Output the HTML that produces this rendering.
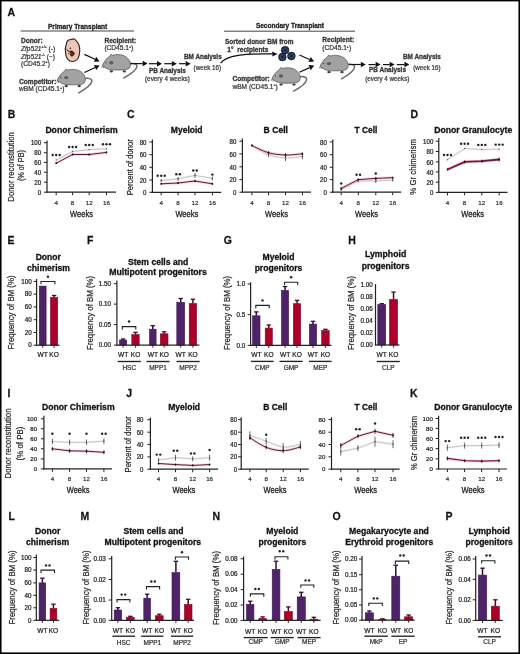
<!DOCTYPE html>
<html><head><meta charset="utf-8"><title>Figure</title>
<style>
html,body{margin:0;padding:0;background:#fff;}
body{width:520px;height:654px;overflow:hidden;}
svg{display:block;font-family:"Liberation Sans", sans-serif;filter:blur(0.3px);}
</style></head>
<body>
<svg width="520" height="654" viewBox="0 0 520 654">
<rect x="0" y="0" width="520" height="654" fill="#fff"/>
<text transform="translate(7.55,16.30) scale(0.89,1)" x="0" y="0" font-size="11.8" font-weight="bold" fill="#111" stroke="#111" stroke-width="0.25">A</text>
<text x="48.00" y="28.60" font-size="6.6" font-weight="bold" textLength="59.3" lengthAdjust="spacingAndGlyphs" fill="#222" stroke="#222" stroke-width="0.28">Primary Transplant</text>
<line x1="20.60" y1="31.00" x2="134.00" y2="31.00" stroke="#444" stroke-width="1.0"/>
<text x="21.00" y="43.00" font-size="6.6" font-weight="bold" fill="#333" stroke="#333" stroke-width="0.28">Donor:</text>
<text x="21.00" y="50.60" font-size="6.6" fill="#333" stroke="#333" stroke-width="0.22"><tspan font-style="italic">Zfp521</tspan><tspan font-size="3.6" dy="-2.6">+/+</tspan><tspan dy="2.6"> (-)</tspan></text>
<text x="21.00" y="58.60" font-size="6.6" fill="#333" stroke="#333" stroke-width="0.22"><tspan font-style="italic">Zfp521</tspan><tspan font-size="3.6" dy="-2.6">-/-</tspan><tspan dy="2.6"> (−)</tspan></text>
<text x="21.00" y="66.00" font-size="6.6" fill="#333" stroke="#333" stroke-width="0.22">(CD45.2<tspan font-size="3.6" dy="-2.6">+</tspan><tspan dy="2.6">)</tspan></text>
<text x="19.00" y="83.70" font-size="6.6" font-weight="bold" fill="#333" stroke="#333" stroke-width="0.28">Competitor:</text>
<text x="19.00" y="91.30" font-size="6.6" fill="#333" stroke="#333" stroke-width="0.22">wBM (CD45.1<tspan font-size="3.6" dy="-2.6">+</tspan><tspan dy="2.6">)</tspan></text>
<path d="M66.2,45 C66.5,41 69,39.2 72,39.4 C73.5,38.6 75,39.2 76,40.6 C78.8,43 80,47 79.7,51.5 C79.4,57 77,61.4 72.5,61.5 C68.5,61.5 65.6,58 65.5,52.5 C65.4,50.5 65.6,49.5 65.2,48.6 Z" fill="#ecc6b8" stroke="#3e2622" stroke-width="1.2"/>
<path d="M65.2,48.6 C66.5,48.8 68,50 69,51.6" fill="none" stroke="#4a2e2a" stroke-width="0.7"/>
<path d="M69.5,51.8 C71,50.6 73,51 74,52.6 C74.6,54 73.8,55.6 72.4,56 C71,56.4 70,55.2 70.4,54" fill="#5a2a22" stroke="#3a1a14" stroke-width="0.9"/>
<path d="M67,50.5 C68.5,51.5 70,51.6 71.5,51" fill="none" stroke="#3a1a14" stroke-width="0.8"/>
<circle cx="70.3" cy="48.2" r="0.8" fill="#2a1510"/>
<circle cx="68.7" cy="53.6" r="0.6" fill="#2a1510"/>
<line x1="84.40" y1="54.40" x2="95.06" y2="59.31" stroke="#111" stroke-width="1.2"/>
<path d="M99.60,61.40 L93.91,61.81 L96.21,56.81 Z" fill="#111"/>
<line x1="84.40" y1="72.50" x2="95.07" y2="67.52" stroke="#111" stroke-width="1.2"/>
<path d="M99.60,65.40 L96.23,70.01 L93.91,65.02 Z" fill="#111"/>
<g transform="translate(57.20,80.20) scale(1.0)"><path d="M27.5,-1.8 C31,-2.4 35,-1.6 34.6,1.2 C34,5 28,9 21.5,12.6" fill="none" stroke="#6e6e6e" stroke-width="1.5" stroke-linecap="round"/><ellipse cx="9" cy="6.0" rx="1.7" ry="1.1" fill="#3c3c3c"/><ellipse cx="22" cy="6.0" rx="1.7" ry="1.1" fill="#3c3c3c"/><path d="M0,0 C1.5,-3.5 4.5,-7.5 7.5,-9.2 L8.6,-11 L10.4,-10.2 C14.5,-11.2 20.5,-11.2 24.2,-8.2 C28,-5.2 29.2,-0.5 27.2,2.6 C25,4.6 21,4.6 16,4.6 L10,4.6 C6,4.2 2.5,2.6 0,0 Z" fill="#a2a2a2" stroke="#4a4a4a" stroke-width="0.7"/><ellipse cx="9" cy="-2.6" rx="2.2" ry="1.7" fill="#5e5e5e"/><circle cx="3.6" cy="-2.6" r="0.55" fill="#222"/><path d="M0.2,0.3 L-0.8,2.2 M1.4,0.9 L1.0,2.8" stroke="#333" stroke-width="0.6"/></g>
<text x="104.40" y="42.50" font-size="6.6" font-weight="bold" fill="#333" stroke="#333" stroke-width="0.28">Recipient:</text>
<text x="104.40" y="50.20" font-size="6.6" fill="#333" stroke="#333" stroke-width="0.22">(CD45.1<tspan font-size="3.6" dy="-2.6">+</tspan><tspan dy="2.6">)</tspan></text>
<g transform="translate(102.30,65.40) scale(1.0)"><path d="M27.5,-1.8 C31,-2.4 35,-1.6 34.6,1.2 C34,5 28,9 21.5,12.6" fill="none" stroke="#6e6e6e" stroke-width="1.5" stroke-linecap="round"/><ellipse cx="9" cy="6.0" rx="1.7" ry="1.1" fill="#3c3c3c"/><ellipse cx="22" cy="6.0" rx="1.7" ry="1.1" fill="#3c3c3c"/><path d="M0,0 C1.5,-3.5 4.5,-7.5 7.5,-9.2 L8.6,-11 L10.4,-10.2 C14.5,-11.2 20.5,-11.2 24.2,-8.2 C28,-5.2 29.2,-0.5 27.2,2.6 C25,4.6 21,4.6 16,4.6 L10,4.6 C6,4.2 2.5,2.6 0,0 Z" fill="#a2a2a2" stroke="#4a4a4a" stroke-width="0.7"/><ellipse cx="9" cy="-2.6" rx="2.2" ry="1.7" fill="#5e5e5e"/><circle cx="3.6" cy="-2.6" r="0.55" fill="#222"/><path d="M0.2,0.3 L-0.8,2.2 M1.4,0.9 L1.0,2.8" stroke="#333" stroke-width="0.6"/></g>
<line x1="130.50" y1="63.60" x2="142.60" y2="63.60" stroke="#111" stroke-width="1.2"/>
<path d="M147.60,63.60 L142.60,66.35 L142.60,60.85 Z" fill="#111"/>
<line x1="149.00" y1="63.70" x2="157.00" y2="63.70" stroke="#111" stroke-width="1.2"/>
<path d="M162.00,63.70 L157.00,66.45 L157.00,60.95 Z" fill="#111"/>
<line x1="164.20" y1="63.70" x2="171.80" y2="63.70" stroke="#111" stroke-width="1.2"/>
<path d="M176.80,63.70 L171.80,66.45 L171.80,60.95 Z" fill="#111"/>
<line x1="179.00" y1="63.70" x2="185.70" y2="63.70" stroke="#111" stroke-width="1.2"/>
<path d="M190.70,63.70 L185.70,66.45 L185.70,60.95 Z" fill="#111"/>
<text x="184.00" y="58.80" font-size="6.6" font-weight="bold" textLength="37.7" lengthAdjust="spacingAndGlyphs" fill="#333" stroke="#333" stroke-width="0.28">BM Analysis</text>
<text x="193.60" y="70.20" font-size="6.6" textLength="27.6" lengthAdjust="spacingAndGlyphs" fill="#333" stroke="#333" stroke-width="0.22">(week 16)</text>
<text x="149.00" y="72.70" font-size="6.6" font-weight="bold" textLength="36.8" lengthAdjust="spacingAndGlyphs" fill="#333" stroke="#333" stroke-width="0.28">PB Analysis</text>
<text x="145.00" y="80.90" font-size="6.6" textLength="44.9" lengthAdjust="spacingAndGlyphs" fill="#333" stroke="#333" stroke-width="0.22">(every 4 weeks)</text>
<text x="255.90" y="28.40" font-size="6.6" font-weight="bold" textLength="68.1" lengthAdjust="spacingAndGlyphs" fill="#222" stroke="#222" stroke-width="0.28">Secondary Transplant</text>
<line x1="224.00" y1="31.20" x2="355.00" y2="31.20" stroke="#444" stroke-width="1.0"/>
<text x="225.00" y="44.10" font-size="6.6" font-weight="bold" textLength="68.5" lengthAdjust="spacingAndGlyphs" fill="#333" stroke="#333" stroke-width="0.28">Sorted donor BM from</text>
<text x="227.30" y="51.80" font-size="6.6" font-weight="bold" textLength="41.0" lengthAdjust="spacingAndGlyphs" fill="#333" stroke="#333" stroke-width="0.28">1° &#160;recipients</text>
<path d="M220.7,63.2 C226,55 245,53.5 272.5,53.9" fill="none" stroke="#111" stroke-width="1.2"/>
<path d="M277.6,53.9 L272.2,51.4 L272.4,56.4 Z" fill="#111"/>
<circle cx="285.1" cy="50.1" r="3.9" fill="#1d2844" stroke="#0c1222" stroke-width="0.5"/>
<circle cx="285.1" cy="50.1" r="2.3" fill="none" stroke="#4a5a7c" stroke-width="0.7"/>
<circle cx="282.4" cy="57.0" r="3.9" fill="#1d2844" stroke="#0c1222" stroke-width="0.5"/>
<circle cx="282.4" cy="57.0" r="2.3" fill="none" stroke="#4a5a7c" stroke-width="0.7"/>
<circle cx="291.4" cy="56.0" r="3.9" fill="#1d2844" stroke="#0c1222" stroke-width="0.5"/>
<circle cx="291.4" cy="56.0" r="2.3" fill="none" stroke="#4a5a7c" stroke-width="0.7"/>
<line x1="299.40" y1="55.00" x2="309.63" y2="59.56" stroke="#111" stroke-width="1.2"/>
<path d="M314.20,61.60 L308.51,62.08 L310.75,57.05 Z" fill="#111"/>
<line x1="299.40" y1="72.20" x2="309.63" y2="67.64" stroke="#111" stroke-width="1.2"/>
<path d="M314.20,65.60 L310.75,70.15 L308.51,65.12 Z" fill="#111"/>
<text x="232.40" y="80.80" font-size="6.6" font-weight="bold" fill="#333" stroke="#333" stroke-width="0.28">Competitor:</text>
<text x="232.40" y="88.50" font-size="6.6" fill="#333" stroke="#333" stroke-width="0.22">wBM (CD45.1<tspan font-size="3.6" dy="-2.6">+</tspan><tspan dy="2.6">)</tspan></text>
<g transform="translate(272.00,78.60) scale(1.0)"><path d="M27.5,-1.8 C31,-2.4 35,-1.6 34.6,1.2 C34,5 28,9 21.5,12.6" fill="none" stroke="#6e6e6e" stroke-width="1.5" stroke-linecap="round"/><ellipse cx="9" cy="6.0" rx="1.7" ry="1.1" fill="#3c3c3c"/><ellipse cx="22" cy="6.0" rx="1.7" ry="1.1" fill="#3c3c3c"/><path d="M0,0 C1.5,-3.5 4.5,-7.5 7.5,-9.2 L8.6,-11 L10.4,-10.2 C14.5,-11.2 20.5,-11.2 24.2,-8.2 C28,-5.2 29.2,-0.5 27.2,2.6 C25,4.6 21,4.6 16,4.6 L10,4.6 C6,4.2 2.5,2.6 0,0 Z" fill="#a2a2a2" stroke="#4a4a4a" stroke-width="0.7"/><ellipse cx="9" cy="-2.6" rx="2.2" ry="1.7" fill="#5e5e5e"/><circle cx="3.6" cy="-2.6" r="0.55" fill="#222"/><path d="M0.2,0.3 L-0.8,2.2 M1.4,0.9 L1.0,2.8" stroke="#333" stroke-width="0.6"/></g>
<text x="322.30" y="42.00" font-size="6.6" font-weight="bold" fill="#333" stroke="#333" stroke-width="0.28">Recipient:</text>
<text x="322.30" y="50.10" font-size="6.6" fill="#333" stroke="#333" stroke-width="0.22">(CD45.1<tspan font-size="3.6" dy="-2.6">+</tspan><tspan dy="2.6">)</tspan></text>
<g transform="translate(320.00,66.20) scale(1.0)"><path d="M27.5,-1.8 C31,-2.4 35,-1.6 34.6,1.2 C34,5 28,9 21.5,12.6" fill="none" stroke="#6e6e6e" stroke-width="1.5" stroke-linecap="round"/><ellipse cx="9" cy="6.0" rx="1.7" ry="1.1" fill="#3c3c3c"/><ellipse cx="22" cy="6.0" rx="1.7" ry="1.1" fill="#3c3c3c"/><path d="M0,0 C1.5,-3.5 4.5,-7.5 7.5,-9.2 L8.6,-11 L10.4,-10.2 C14.5,-11.2 20.5,-11.2 24.2,-8.2 C28,-5.2 29.2,-0.5 27.2,2.6 C25,4.6 21,4.6 16,4.6 L10,4.6 C6,4.2 2.5,2.6 0,0 Z" fill="#a2a2a2" stroke="#4a4a4a" stroke-width="0.7"/><ellipse cx="9" cy="-2.6" rx="2.2" ry="1.7" fill="#5e5e5e"/><circle cx="3.6" cy="-2.6" r="0.55" fill="#222"/><path d="M0.2,0.3 L-0.8,2.2 M1.4,0.9 L1.0,2.8" stroke="#333" stroke-width="0.6"/></g>
<line x1="349.00" y1="64.50" x2="360.80" y2="64.50" stroke="#111" stroke-width="1.2"/>
<path d="M365.80,64.50 L360.80,67.25 L360.80,61.75 Z" fill="#111"/>
<line x1="368.50" y1="64.60" x2="375.60" y2="64.60" stroke="#111" stroke-width="1.2"/>
<path d="M380.60,64.60 L375.60,67.35 L375.60,61.85 Z" fill="#111"/>
<line x1="382.80" y1="64.60" x2="389.60" y2="64.60" stroke="#111" stroke-width="1.2"/>
<path d="M394.60,64.60 L389.60,67.35 L389.60,61.85 Z" fill="#111"/>
<line x1="396.80" y1="64.60" x2="404.40" y2="64.60" stroke="#111" stroke-width="1.2"/>
<path d="M409.40,64.60 L404.40,67.35 L404.40,61.85 Z" fill="#111"/>
<text x="403.00" y="58.80" font-size="6.6" font-weight="bold" textLength="37.8" lengthAdjust="spacingAndGlyphs" fill="#333" stroke="#333" stroke-width="0.28">BM Analysis</text>
<text x="413.30" y="70.00" font-size="6.6" textLength="27.3" lengthAdjust="spacingAndGlyphs" fill="#333" stroke="#333" stroke-width="0.22">(week 16)</text>
<text x="369.00" y="71.90" font-size="6.6" font-weight="bold" textLength="37.0" lengthAdjust="spacingAndGlyphs" fill="#333" stroke="#333" stroke-width="0.28">PB Analysis</text>
<text x="365.20" y="80.60" font-size="6.6" textLength="44.2" lengthAdjust="spacingAndGlyphs" fill="#333" stroke="#333" stroke-width="0.22">(every 4 weeks)</text>
<text transform="translate(7.76,118.20) scale(0.89,1)" x="0" y="0" font-size="11.8" font-weight="bold" fill="#111" stroke="#111" stroke-width="0.25">B</text>
<text transform="translate(127.02,118.20) scale(0.89,1)" x="0" y="0" font-size="11.8" font-weight="bold" fill="#111" stroke="#111" stroke-width="0.25">C</text>
<text transform="translate(410.51,118.20) scale(0.89,1)" x="0" y="0" font-size="11.8" font-weight="bold" fill="#111" stroke="#111" stroke-width="0.25">D</text>
<text x="45.40" y="132.70" font-size="8.6" font-weight="bold" textLength="72.3" lengthAdjust="spacingAndGlyphs" fill="#111" stroke="#111" stroke-width="0.28">Donor Chimerism</text>
<text transform="translate(13.80,166.90) rotate(-90)" x="0" y="0" font-size="9.1" text-anchor="middle" textLength="69.5" lengthAdjust="spacingAndGlyphs" fill="#222" stroke="#222" stroke-width="0.2">Donor reconstitution</text>
<text transform="translate(24.00,165.60) rotate(-90)" x="0" y="0" font-size="9.1" text-anchor="middle" textLength="31.0" lengthAdjust="spacingAndGlyphs" fill="#222" stroke="#222" stroke-width="0.2">(% of PB)</text>
<line x1="47.00" y1="140.40" x2="47.00" y2="192.80" stroke="#222" stroke-width="1.2"/>
<line x1="46.40" y1="192.20" x2="116.00" y2="192.20" stroke="#222" stroke-width="1.2"/>
<line x1="44.00" y1="142.70" x2="47.00" y2="142.70" stroke="#222" stroke-width="1.0"/>
<text x="41.10" y="145.45" font-size="6.3" text-anchor="end" textLength="10.2" lengthAdjust="spacingAndGlyphs" fill="#222" stroke="#222" stroke-width="0.22">100</text>
<line x1="44.00" y1="152.70" x2="47.00" y2="152.70" stroke="#222" stroke-width="1.0"/>
<text x="41.10" y="155.45" font-size="6.3" text-anchor="end" textLength="6.8" lengthAdjust="spacingAndGlyphs" fill="#222" stroke="#222" stroke-width="0.22">80</text>
<line x1="44.00" y1="162.40" x2="47.00" y2="162.40" stroke="#222" stroke-width="1.0"/>
<text x="41.10" y="165.15" font-size="6.3" text-anchor="end" textLength="6.8" lengthAdjust="spacingAndGlyphs" fill="#222" stroke="#222" stroke-width="0.22">60</text>
<line x1="44.00" y1="172.20" x2="47.00" y2="172.20" stroke="#222" stroke-width="1.0"/>
<text x="41.10" y="174.95" font-size="6.3" text-anchor="end" textLength="6.8" lengthAdjust="spacingAndGlyphs" fill="#222" stroke="#222" stroke-width="0.22">40</text>
<line x1="44.00" y1="182.20" x2="47.00" y2="182.20" stroke="#222" stroke-width="1.0"/>
<text x="41.10" y="184.95" font-size="6.3" text-anchor="end" textLength="6.8" lengthAdjust="spacingAndGlyphs" fill="#222" stroke="#222" stroke-width="0.22">20</text>
<line x1="44.00" y1="192.20" x2="47.00" y2="192.20" stroke="#222" stroke-width="1.0"/>
<text x="41.10" y="194.95" font-size="6.3" text-anchor="end" textLength="3.4" lengthAdjust="spacingAndGlyphs" fill="#222" stroke="#222" stroke-width="0.22">0</text>
<line x1="56.20" y1="192.20" x2="56.20" y2="195.20" stroke="#222" stroke-width="1.0"/>
<text x="56.20" y="204.80" font-size="6.2" text-anchor="middle" fill="#222" stroke="#222" stroke-width="0.15">4</text>
<line x1="72.60" y1="192.20" x2="72.60" y2="195.20" stroke="#222" stroke-width="1.0"/>
<text x="72.60" y="204.80" font-size="6.2" text-anchor="middle" fill="#222" stroke="#222" stroke-width="0.15">8</text>
<line x1="89.20" y1="192.20" x2="89.20" y2="195.20" stroke="#222" stroke-width="1.0"/>
<text x="89.20" y="204.80" font-size="6.2" text-anchor="middle" fill="#222" stroke="#222" stroke-width="0.15">12</text>
<line x1="106.50" y1="192.20" x2="106.50" y2="195.20" stroke="#222" stroke-width="1.0"/>
<text x="106.50" y="204.80" font-size="6.2" text-anchor="middle" fill="#222" stroke="#222" stroke-width="0.15">16</text>
<text x="81.50" y="217.40" font-size="9.7" text-anchor="middle" textLength="22.8" lengthAdjust="spacingAndGlyphs" fill="#1a1a1a" stroke="#1a1a1a" stroke-width="0.32">Weeks</text>
<path d="M56.20,160.00 L72.60,151.50 L89.20,149.60 L106.50,148.80" fill="none" stroke="#eee0e4" stroke-width="2.2" opacity="0.5"/>
<path d="M56.20,160.00 L72.60,151.50 L89.20,149.60 L106.50,148.80" fill="none" stroke="#c2c2c2" stroke-width="0.9"/>
<rect x="55.60" y="159.40" width="1.20" height="1.20" fill="#555"/>
<rect x="72.00" y="150.90" width="1.20" height="1.20" fill="#555"/>
<rect x="88.60" y="149.00" width="1.20" height="1.20" fill="#555"/>
<rect x="105.90" y="148.20" width="1.20" height="1.20" fill="#555"/>
<path d="M56.20,163.20 L72.60,154.50 L89.20,154.50 L106.50,152.40" fill="none" stroke="#eba9bc" stroke-width="2.8" opacity="0.45"/>
<path d="M56.20,163.20 L72.60,154.50 L89.20,154.50 L106.50,152.40" fill="none" stroke="#5c1832" stroke-width="1.0"/>
<rect x="55.45" y="162.45" width="1.50" height="1.50" fill="#2a0a16"/>
<line x1="56.20" y1="162.20" x2="56.20" y2="164.20" stroke="#2a0a16" stroke-width="0.8"/>
<rect x="71.85" y="153.75" width="1.50" height="1.50" fill="#2a0a16"/>
<line x1="72.60" y1="153.50" x2="72.60" y2="155.50" stroke="#2a0a16" stroke-width="0.8"/>
<rect x="88.45" y="153.75" width="1.50" height="1.50" fill="#2a0a16"/>
<line x1="89.20" y1="153.50" x2="89.20" y2="155.50" stroke="#2a0a16" stroke-width="0.8"/>
<rect x="105.75" y="151.65" width="1.50" height="1.50" fill="#2a0a16"/>
<line x1="106.50" y1="151.40" x2="106.50" y2="153.40" stroke="#2a0a16" stroke-width="0.8"/>
<circle cx="52.70" cy="155.00" r="1.2" fill="#222"/>
<circle cx="56.20" cy="155.00" r="1.2" fill="#222"/>
<circle cx="59.70" cy="155.00" r="1.2" fill="#222"/>
<circle cx="69.10" cy="147.00" r="1.2" fill="#222"/>
<circle cx="72.60" cy="147.00" r="1.2" fill="#222"/>
<circle cx="76.10" cy="147.00" r="1.2" fill="#222"/>
<circle cx="85.70" cy="145.00" r="1.2" fill="#222"/>
<circle cx="89.20" cy="145.00" r="1.2" fill="#222"/>
<circle cx="92.70" cy="145.00" r="1.2" fill="#222"/>
<circle cx="103.00" cy="144.20" r="1.2" fill="#222"/>
<circle cx="106.50" cy="144.20" r="1.2" fill="#222"/>
<circle cx="110.00" cy="144.20" r="1.2" fill="#222"/>
<text x="170.80" y="132.70" font-size="8.6" font-weight="bold" textLength="31.8" lengthAdjust="spacingAndGlyphs" fill="#111" stroke="#111" stroke-width="0.28">Myeloid</text>
<text transform="translate(133.10,167.30) rotate(-90)" x="0" y="0" font-size="9.1" text-anchor="middle" textLength="56.0" lengthAdjust="spacingAndGlyphs" fill="#222" stroke="#222" stroke-width="0.2">Percent of donor</text>
<line x1="152.40" y1="139.60" x2="152.40" y2="192.90" stroke="#222" stroke-width="1.2"/>
<line x1="151.80" y1="192.30" x2="221.20" y2="192.30" stroke="#222" stroke-width="1.2"/>
<line x1="149.40" y1="142.00" x2="152.40" y2="142.00" stroke="#222" stroke-width="1.0"/>
<text x="146.50" y="144.75" font-size="6.3" text-anchor="end" textLength="6.8" lengthAdjust="spacingAndGlyphs" fill="#222" stroke="#222" stroke-width="0.22">80</text>
<line x1="149.40" y1="154.70" x2="152.40" y2="154.70" stroke="#222" stroke-width="1.0"/>
<text x="146.50" y="157.45" font-size="6.3" text-anchor="end" textLength="6.8" lengthAdjust="spacingAndGlyphs" fill="#222" stroke="#222" stroke-width="0.22">60</text>
<line x1="149.40" y1="167.30" x2="152.40" y2="167.30" stroke="#222" stroke-width="1.0"/>
<text x="146.50" y="170.05" font-size="6.3" text-anchor="end" textLength="6.8" lengthAdjust="spacingAndGlyphs" fill="#222" stroke="#222" stroke-width="0.22">40</text>
<line x1="149.40" y1="180.00" x2="152.40" y2="180.00" stroke="#222" stroke-width="1.0"/>
<text x="146.50" y="182.75" font-size="6.3" text-anchor="end" textLength="6.8" lengthAdjust="spacingAndGlyphs" fill="#222" stroke="#222" stroke-width="0.22">20</text>
<line x1="149.40" y1="192.30" x2="152.40" y2="192.30" stroke="#222" stroke-width="1.0"/>
<text x="146.50" y="195.05" font-size="6.3" text-anchor="end" textLength="3.4" lengthAdjust="spacingAndGlyphs" fill="#222" stroke="#222" stroke-width="0.22">0</text>
<line x1="161.20" y1="192.30" x2="161.20" y2="195.30" stroke="#222" stroke-width="1.0"/>
<text x="161.20" y="204.80" font-size="6.2" text-anchor="middle" fill="#222" stroke="#222" stroke-width="0.15">4</text>
<line x1="178.10" y1="192.30" x2="178.10" y2="195.30" stroke="#222" stroke-width="1.0"/>
<text x="178.10" y="204.80" font-size="6.2" text-anchor="middle" fill="#222" stroke="#222" stroke-width="0.15">8</text>
<line x1="195.00" y1="192.30" x2="195.00" y2="195.30" stroke="#222" stroke-width="1.0"/>
<text x="195.00" y="204.80" font-size="6.2" text-anchor="middle" fill="#222" stroke="#222" stroke-width="0.15">12</text>
<line x1="212.40" y1="192.30" x2="212.40" y2="195.30" stroke="#222" stroke-width="1.0"/>
<text x="212.40" y="204.80" font-size="6.2" text-anchor="middle" fill="#222" stroke="#222" stroke-width="0.15">16</text>
<text x="186.80" y="217.20" font-size="9.7" text-anchor="middle" textLength="22.8" lengthAdjust="spacingAndGlyphs" fill="#1a1a1a" stroke="#1a1a1a" stroke-width="0.32">Weeks</text>
<path d="M161.20,180.50 L178.10,178.90 L195.00,175.40 L212.40,178.50" fill="none" stroke="#eee0e4" stroke-width="2.2" opacity="0.5"/>
<path d="M161.20,180.50 L178.10,178.90 L195.00,175.40 L212.40,178.50" fill="none" stroke="#c2c2c2" stroke-width="0.9"/>
<rect x="160.60" y="179.90" width="1.20" height="1.20" fill="#555"/>
<line x1="161.20" y1="179.00" x2="161.20" y2="182.00" stroke="#444" stroke-width="0.8"/>
<rect x="177.50" y="178.30" width="1.20" height="1.20" fill="#555"/>
<line x1="178.10" y1="176.90" x2="178.10" y2="180.90" stroke="#444" stroke-width="0.8"/>
<rect x="194.40" y="174.80" width="1.20" height="1.20" fill="#555"/>
<line x1="195.00" y1="172.90" x2="195.00" y2="177.90" stroke="#444" stroke-width="0.8"/>
<rect x="211.80" y="177.90" width="1.20" height="1.20" fill="#555"/>
<line x1="212.40" y1="176.50" x2="212.40" y2="180.50" stroke="#444" stroke-width="0.8"/>
<path d="M161.20,183.80 L178.10,183.00 L195.00,181.00 L212.40,183.80" fill="none" stroke="#eba9bc" stroke-width="2.8" opacity="0.45"/>
<path d="M161.20,183.80 L178.10,183.00 L195.00,181.00 L212.40,183.80" fill="none" stroke="#5c1832" stroke-width="1.0"/>
<rect x="160.45" y="183.05" width="1.50" height="1.50" fill="#2a0a16"/>
<line x1="161.20" y1="182.80" x2="161.20" y2="184.80" stroke="#2a0a16" stroke-width="0.8"/>
<rect x="177.35" y="182.25" width="1.50" height="1.50" fill="#2a0a16"/>
<line x1="178.10" y1="182.00" x2="178.10" y2="184.00" stroke="#2a0a16" stroke-width="0.8"/>
<rect x="194.25" y="180.25" width="1.50" height="1.50" fill="#2a0a16"/>
<line x1="195.00" y1="180.00" x2="195.00" y2="182.00" stroke="#2a0a16" stroke-width="0.8"/>
<rect x="211.65" y="183.05" width="1.50" height="1.50" fill="#2a0a16"/>
<line x1="212.40" y1="182.80" x2="212.40" y2="184.80" stroke="#2a0a16" stroke-width="0.8"/>
<circle cx="157.70" cy="175.80" r="1.2" fill="#222"/>
<circle cx="161.20" cy="175.80" r="1.2" fill="#222"/>
<circle cx="164.70" cy="175.80" r="1.2" fill="#222"/>
<circle cx="176.35" cy="174.30" r="1.2" fill="#222"/>
<circle cx="179.85" cy="174.30" r="1.2" fill="#222"/>
<circle cx="193.25" cy="170.50" r="1.2" fill="#222"/>
<circle cx="196.75" cy="170.50" r="1.2" fill="#222"/>
<circle cx="212.40" cy="174.60" r="1.2" fill="#222"/>
<text x="263.50" y="132.70" font-size="8.6" font-weight="bold" textLength="24.5" lengthAdjust="spacingAndGlyphs" fill="#111" stroke="#111" stroke-width="0.28">B Cell</text>
<line x1="242.40" y1="138.50" x2="242.40" y2="192.80" stroke="#222" stroke-width="1.2"/>
<line x1="241.80" y1="192.20" x2="311.00" y2="192.20" stroke="#222" stroke-width="1.2"/>
<line x1="239.40" y1="141.20" x2="242.40" y2="141.20" stroke="#222" stroke-width="1.0"/>
<text x="236.30" y="143.95" font-size="6.3" text-anchor="end" textLength="6.8" lengthAdjust="spacingAndGlyphs" fill="#222" stroke="#222" stroke-width="0.22">80</text>
<line x1="239.40" y1="153.90" x2="242.40" y2="153.90" stroke="#222" stroke-width="1.0"/>
<text x="236.30" y="156.65" font-size="6.3" text-anchor="end" textLength="6.8" lengthAdjust="spacingAndGlyphs" fill="#222" stroke="#222" stroke-width="0.22">60</text>
<line x1="239.40" y1="166.80" x2="242.40" y2="166.80" stroke="#222" stroke-width="1.0"/>
<text x="236.30" y="169.55" font-size="6.3" text-anchor="end" textLength="6.8" lengthAdjust="spacingAndGlyphs" fill="#222" stroke="#222" stroke-width="0.22">40</text>
<line x1="239.40" y1="179.60" x2="242.40" y2="179.60" stroke="#222" stroke-width="1.0"/>
<text x="236.30" y="182.35" font-size="6.3" text-anchor="end" textLength="6.8" lengthAdjust="spacingAndGlyphs" fill="#222" stroke="#222" stroke-width="0.22">20</text>
<line x1="239.40" y1="192.20" x2="242.40" y2="192.20" stroke="#222" stroke-width="1.0"/>
<text x="236.30" y="194.95" font-size="6.3" text-anchor="end" textLength="3.4" lengthAdjust="spacingAndGlyphs" fill="#222" stroke="#222" stroke-width="0.22">0</text>
<line x1="251.90" y1="192.20" x2="251.90" y2="195.20" stroke="#222" stroke-width="1.0"/>
<text x="251.90" y="204.80" font-size="6.2" text-anchor="middle" fill="#222" stroke="#222" stroke-width="0.15">4</text>
<line x1="268.50" y1="192.20" x2="268.50" y2="195.20" stroke="#222" stroke-width="1.0"/>
<text x="268.50" y="204.80" font-size="6.2" text-anchor="middle" fill="#222" stroke="#222" stroke-width="0.15">8</text>
<line x1="285.50" y1="192.20" x2="285.50" y2="195.20" stroke="#222" stroke-width="1.0"/>
<text x="285.50" y="204.80" font-size="6.2" text-anchor="middle" fill="#222" stroke="#222" stroke-width="0.15">12</text>
<line x1="302.40" y1="192.20" x2="302.40" y2="195.20" stroke="#222" stroke-width="1.0"/>
<text x="302.40" y="204.80" font-size="6.2" text-anchor="middle" fill="#222" stroke="#222" stroke-width="0.15">16</text>
<text x="276.50" y="217.20" font-size="9.7" text-anchor="middle" textLength="22.8" lengthAdjust="spacingAndGlyphs" fill="#1a1a1a" stroke="#1a1a1a" stroke-width="0.32">Weeks</text>
<path d="M251.90,145.50 C254.89,147.16 262.45,152.45 268.50,154.70 C274.55,156.95 279.40,157.68 285.50,158.00 C291.60,158.32 299.36,156.77 302.40,156.50" fill="none" stroke="#eee0e4" stroke-width="2.2" opacity="0.5"/>
<path d="M251.90,145.50 C254.89,147.16 262.45,152.45 268.50,154.70 C274.55,156.95 279.40,157.68 285.50,158.00 C291.60,158.32 299.36,156.77 302.40,156.50" fill="none" stroke="#c2c2c2" stroke-width="0.9"/>
<rect x="251.30" y="144.90" width="1.20" height="1.20" fill="#555"/>
<line x1="251.90" y1="144.50" x2="251.90" y2="146.50" stroke="#444" stroke-width="0.8"/>
<rect x="267.90" y="154.10" width="1.20" height="1.20" fill="#555"/>
<line x1="268.50" y1="152.20" x2="268.50" y2="157.20" stroke="#444" stroke-width="0.8"/>
<rect x="284.90" y="157.40" width="1.20" height="1.20" fill="#555"/>
<line x1="285.50" y1="155.00" x2="285.50" y2="161.00" stroke="#444" stroke-width="0.8"/>
<rect x="301.80" y="155.90" width="1.20" height="1.20" fill="#555"/>
<line x1="302.40" y1="154.00" x2="302.40" y2="159.00" stroke="#444" stroke-width="0.8"/>
<path d="M251.90,145.50 C254.89,146.80 262.45,150.99 268.50,152.70 C274.55,154.41 279.40,154.80 285.50,155.00 C291.60,155.20 299.36,154.02 302.40,153.80" fill="none" stroke="#eba9bc" stroke-width="2.8" opacity="0.45"/>
<path d="M251.90,145.50 C254.89,146.80 262.45,150.99 268.50,152.70 C274.55,154.41 279.40,154.80 285.50,155.00 C291.60,155.20 299.36,154.02 302.40,153.80" fill="none" stroke="#5c1832" stroke-width="1.0"/>
<rect x="251.15" y="144.75" width="1.50" height="1.50" fill="#2a0a16"/>
<line x1="251.90" y1="144.50" x2="251.90" y2="146.50" stroke="#2a0a16" stroke-width="0.8"/>
<rect x="267.75" y="151.95" width="1.50" height="1.50" fill="#2a0a16"/>
<line x1="268.50" y1="151.20" x2="268.50" y2="154.20" stroke="#2a0a16" stroke-width="0.8"/>
<rect x="284.75" y="154.25" width="1.50" height="1.50" fill="#2a0a16"/>
<line x1="285.50" y1="153.00" x2="285.50" y2="157.00" stroke="#2a0a16" stroke-width="0.8"/>
<rect x="301.65" y="153.05" width="1.50" height="1.50" fill="#2a0a16"/>
<line x1="302.40" y1="152.30" x2="302.40" y2="155.30" stroke="#2a0a16" stroke-width="0.8"/>
<text x="354.60" y="132.70" font-size="8.6" font-weight="bold" textLength="22.8" lengthAdjust="spacingAndGlyphs" fill="#111" stroke="#111" stroke-width="0.28">T Cell</text>
<line x1="332.80" y1="139.60" x2="332.80" y2="192.80" stroke="#222" stroke-width="1.2"/>
<line x1="332.20" y1="192.20" x2="401.20" y2="192.20" stroke="#222" stroke-width="1.2"/>
<line x1="329.80" y1="141.90" x2="332.80" y2="141.90" stroke="#222" stroke-width="1.0"/>
<text x="326.80" y="144.65" font-size="6.3" text-anchor="end" textLength="6.8" lengthAdjust="spacingAndGlyphs" fill="#222" stroke="#222" stroke-width="0.22">80</text>
<line x1="329.80" y1="154.70" x2="332.80" y2="154.70" stroke="#222" stroke-width="1.0"/>
<text x="326.80" y="157.45" font-size="6.3" text-anchor="end" textLength="6.8" lengthAdjust="spacingAndGlyphs" fill="#222" stroke="#222" stroke-width="0.22">60</text>
<line x1="329.80" y1="167.30" x2="332.80" y2="167.30" stroke="#222" stroke-width="1.0"/>
<text x="326.80" y="170.05" font-size="6.3" text-anchor="end" textLength="6.8" lengthAdjust="spacingAndGlyphs" fill="#222" stroke="#222" stroke-width="0.22">40</text>
<line x1="329.80" y1="179.60" x2="332.80" y2="179.60" stroke="#222" stroke-width="1.0"/>
<text x="326.80" y="182.35" font-size="6.3" text-anchor="end" textLength="6.8" lengthAdjust="spacingAndGlyphs" fill="#222" stroke="#222" stroke-width="0.22">20</text>
<line x1="329.80" y1="192.20" x2="332.80" y2="192.20" stroke="#222" stroke-width="1.0"/>
<text x="326.80" y="194.95" font-size="6.3" text-anchor="end" textLength="3.4" lengthAdjust="spacingAndGlyphs" fill="#222" stroke="#222" stroke-width="0.22">0</text>
<line x1="341.20" y1="192.20" x2="341.20" y2="195.20" stroke="#222" stroke-width="1.0"/>
<text x="341.20" y="204.80" font-size="6.2" text-anchor="middle" fill="#222" stroke="#222" stroke-width="0.15">4</text>
<line x1="358.30" y1="192.20" x2="358.30" y2="195.20" stroke="#222" stroke-width="1.0"/>
<text x="358.30" y="204.80" font-size="6.2" text-anchor="middle" fill="#222" stroke="#222" stroke-width="0.15">8</text>
<line x1="375.80" y1="192.20" x2="375.80" y2="195.20" stroke="#222" stroke-width="1.0"/>
<text x="375.80" y="204.80" font-size="6.2" text-anchor="middle" fill="#222" stroke="#222" stroke-width="0.15">12</text>
<line x1="392.70" y1="192.20" x2="392.70" y2="195.20" stroke="#222" stroke-width="1.0"/>
<text x="392.70" y="204.80" font-size="6.2" text-anchor="middle" fill="#222" stroke="#222" stroke-width="0.15">16</text>
<text x="366.50" y="217.20" font-size="9.7" text-anchor="middle" textLength="22.8" lengthAdjust="spacingAndGlyphs" fill="#1a1a1a" stroke="#1a1a1a" stroke-width="0.32">Weeks</text>
<path d="M341.20,189.60 L358.30,181.00 L375.80,181.00 L392.70,180.00" fill="none" stroke="#eee0e4" stroke-width="2.2" opacity="0.5"/>
<path d="M341.20,189.60 L358.30,181.00 L375.80,181.00 L392.70,180.00" fill="none" stroke="#c2c2c2" stroke-width="0.9"/>
<rect x="340.60" y="189.00" width="1.20" height="1.20" fill="#555"/>
<line x1="341.20" y1="188.10" x2="341.20" y2="191.10" stroke="#444" stroke-width="0.8"/>
<rect x="357.70" y="180.40" width="1.20" height="1.20" fill="#555"/>
<line x1="358.30" y1="179.50" x2="358.30" y2="182.50" stroke="#444" stroke-width="0.8"/>
<rect x="375.20" y="180.40" width="1.20" height="1.20" fill="#555"/>
<line x1="375.80" y1="179.00" x2="375.80" y2="183.00" stroke="#444" stroke-width="0.8"/>
<rect x="392.10" y="179.40" width="1.20" height="1.20" fill="#555"/>
<line x1="392.70" y1="178.50" x2="392.70" y2="181.50" stroke="#444" stroke-width="0.8"/>
<path d="M341.20,188.40 L358.30,179.60 L375.80,178.40 L392.70,177.70" fill="none" stroke="#eba9bc" stroke-width="2.8" opacity="0.45"/>
<path d="M341.20,188.40 L358.30,179.60 L375.80,178.40 L392.70,177.70" fill="none" stroke="#5c1832" stroke-width="1.0"/>
<rect x="340.45" y="187.65" width="1.50" height="1.50" fill="#2a0a16"/>
<line x1="341.20" y1="187.40" x2="341.20" y2="189.40" stroke="#2a0a16" stroke-width="0.8"/>
<rect x="357.55" y="178.85" width="1.50" height="1.50" fill="#2a0a16"/>
<line x1="358.30" y1="178.60" x2="358.30" y2="180.60" stroke="#2a0a16" stroke-width="0.8"/>
<rect x="375.05" y="177.65" width="1.50" height="1.50" fill="#2a0a16"/>
<line x1="375.80" y1="176.90" x2="375.80" y2="179.90" stroke="#2a0a16" stroke-width="0.8"/>
<rect x="391.95" y="176.95" width="1.50" height="1.50" fill="#2a0a16"/>
<line x1="392.70" y1="176.70" x2="392.70" y2="178.70" stroke="#2a0a16" stroke-width="0.8"/>
<circle cx="341.20" cy="183.50" r="1.2" fill="#222"/>
<circle cx="356.55" cy="174.70" r="1.2" fill="#222"/>
<circle cx="360.05" cy="174.70" r="1.2" fill="#222"/>
<circle cx="375.80" cy="173.50" r="1.2" fill="#222"/>
<text x="434.20" y="132.70" font-size="8.6" font-weight="bold" textLength="78.1" lengthAdjust="spacingAndGlyphs" fill="#111" stroke="#111" stroke-width="0.28">Donor Granulocyte</text>
<text transform="translate(416.40,166.90) rotate(-90)" x="0" y="0" font-size="9.1" text-anchor="middle" textLength="55.6" lengthAdjust="spacingAndGlyphs" fill="#222" stroke="#222" stroke-width="0.2">% Gr chimerism</text>
<line x1="438.80" y1="138.10" x2="438.80" y2="193.00" stroke="#222" stroke-width="1.2"/>
<line x1="438.20" y1="192.40" x2="507.50" y2="192.40" stroke="#222" stroke-width="1.2"/>
<line x1="435.80" y1="141.20" x2="438.80" y2="141.20" stroke="#222" stroke-width="1.0"/>
<text x="433.30" y="143.95" font-size="6.3" text-anchor="end" textLength="10.2" lengthAdjust="spacingAndGlyphs" fill="#222" stroke="#222" stroke-width="0.22">100</text>
<line x1="435.80" y1="151.50" x2="438.80" y2="151.50" stroke="#222" stroke-width="1.0"/>
<text x="433.30" y="154.25" font-size="6.3" text-anchor="end" textLength="6.8" lengthAdjust="spacingAndGlyphs" fill="#222" stroke="#222" stroke-width="0.22">80</text>
<line x1="435.80" y1="161.90" x2="438.80" y2="161.90" stroke="#222" stroke-width="1.0"/>
<text x="433.30" y="164.65" font-size="6.3" text-anchor="end" textLength="6.8" lengthAdjust="spacingAndGlyphs" fill="#222" stroke="#222" stroke-width="0.22">60</text>
<line x1="435.80" y1="171.90" x2="438.80" y2="171.90" stroke="#222" stroke-width="1.0"/>
<text x="433.30" y="174.65" font-size="6.3" text-anchor="end" textLength="6.8" lengthAdjust="spacingAndGlyphs" fill="#222" stroke="#222" stroke-width="0.22">40</text>
<line x1="435.80" y1="182.20" x2="438.80" y2="182.20" stroke="#222" stroke-width="1.0"/>
<text x="433.30" y="184.95" font-size="6.3" text-anchor="end" textLength="6.8" lengthAdjust="spacingAndGlyphs" fill="#222" stroke="#222" stroke-width="0.22">20</text>
<line x1="435.80" y1="192.40" x2="438.80" y2="192.40" stroke="#222" stroke-width="1.0"/>
<text x="433.30" y="195.15" font-size="6.3" text-anchor="end" textLength="3.4" lengthAdjust="spacingAndGlyphs" fill="#222" stroke="#222" stroke-width="0.22">0</text>
<line x1="447.50" y1="192.40" x2="447.50" y2="195.40" stroke="#222" stroke-width="1.0"/>
<text x="447.50" y="204.80" font-size="6.2" text-anchor="middle" fill="#222" stroke="#222" stroke-width="0.15">4</text>
<line x1="464.60" y1="192.40" x2="464.60" y2="195.40" stroke="#222" stroke-width="1.0"/>
<text x="464.60" y="204.80" font-size="6.2" text-anchor="middle" fill="#222" stroke="#222" stroke-width="0.15">8</text>
<line x1="481.80" y1="192.40" x2="481.80" y2="195.40" stroke="#222" stroke-width="1.0"/>
<text x="481.80" y="204.80" font-size="6.2" text-anchor="middle" fill="#222" stroke="#222" stroke-width="0.15">12</text>
<line x1="499.20" y1="192.40" x2="499.20" y2="195.40" stroke="#222" stroke-width="1.0"/>
<text x="499.20" y="204.80" font-size="6.2" text-anchor="middle" fill="#222" stroke="#222" stroke-width="0.15">16</text>
<text x="472.70" y="217.10" font-size="9.7" text-anchor="middle" textLength="22.8" lengthAdjust="spacingAndGlyphs" fill="#1a1a1a" stroke="#1a1a1a" stroke-width="0.32">Weeks</text>
<path d="M447.50,159.70 L464.60,148.50 L481.80,149.50 L499.20,149.20" fill="none" stroke="#eee0e4" stroke-width="2.2" opacity="0.5"/>
<path d="M447.50,159.70 L464.60,148.50 L481.80,149.50 L499.20,149.20" fill="none" stroke="#c2c2c2" stroke-width="0.9"/>
<rect x="446.90" y="159.10" width="1.20" height="1.20" fill="#555"/>
<rect x="464.00" y="147.90" width="1.20" height="1.20" fill="#555"/>
<rect x="481.20" y="148.90" width="1.20" height="1.20" fill="#555"/>
<rect x="498.60" y="148.60" width="1.20" height="1.20" fill="#555"/>
<path d="M447.50,169.50 L464.60,161.90 L481.80,161.20 L499.20,159.50" fill="none" stroke="#eba9bc" stroke-width="3.6" opacity="0.45"/>
<path d="M447.50,169.50 L464.60,161.90 L481.80,161.20 L499.20,159.50" fill="none" stroke="#701834" stroke-width="1.8"/>
<rect x="446.75" y="168.75" width="1.50" height="1.50" fill="#2a0a16"/>
<line x1="447.50" y1="168.50" x2="447.50" y2="170.50" stroke="#2a0a16" stroke-width="0.8"/>
<rect x="463.85" y="161.15" width="1.50" height="1.50" fill="#2a0a16"/>
<line x1="464.60" y1="160.40" x2="464.60" y2="163.40" stroke="#2a0a16" stroke-width="0.8"/>
<rect x="481.05" y="160.45" width="1.50" height="1.50" fill="#2a0a16"/>
<line x1="481.80" y1="159.70" x2="481.80" y2="162.70" stroke="#2a0a16" stroke-width="0.8"/>
<rect x="498.45" y="158.75" width="1.50" height="1.50" fill="#2a0a16"/>
<line x1="499.20" y1="157.50" x2="499.20" y2="161.50" stroke="#2a0a16" stroke-width="0.8"/>
<circle cx="444.00" cy="155.00" r="1.2" fill="#222"/>
<circle cx="447.50" cy="155.00" r="1.2" fill="#222"/>
<circle cx="451.00" cy="155.00" r="1.2" fill="#222"/>
<circle cx="461.10" cy="143.80" r="1.2" fill="#222"/>
<circle cx="464.60" cy="143.80" r="1.2" fill="#222"/>
<circle cx="468.10" cy="143.80" r="1.2" fill="#222"/>
<circle cx="478.30" cy="144.90" r="1.2" fill="#222"/>
<circle cx="481.80" cy="144.90" r="1.2" fill="#222"/>
<circle cx="485.30" cy="144.90" r="1.2" fill="#222"/>
<circle cx="495.70" cy="144.60" r="1.2" fill="#222"/>
<circle cx="499.20" cy="144.60" r="1.2" fill="#222"/>
<circle cx="502.70" cy="144.60" r="1.2" fill="#222"/>
<text transform="translate(7.61,243.50) scale(0.89,1)" x="0" y="0" font-size="11.8" font-weight="bold" fill="#111" stroke="#111" stroke-width="0.25">E</text>
<text transform="translate(87.11,243.50) scale(0.89,1)" x="0" y="0" font-size="11.8" font-weight="bold" fill="#111" stroke="#111" stroke-width="0.25">F</text>
<text transform="translate(223.77,243.50) scale(0.89,1)" x="0" y="0" font-size="11.8" font-weight="bold" fill="#111" stroke="#111" stroke-width="0.25">G</text>
<text transform="translate(348.31,243.50) scale(0.89,1)" x="0" y="0" font-size="11.8" font-weight="bold" fill="#111" stroke="#111" stroke-width="0.25">H</text>
<text x="48.30" y="259.90" font-size="8.6" font-weight="bold" text-anchor="middle" fill="#111" stroke="#111" stroke-width="0.28">Donor</text>
<text x="48.50" y="271.00" font-size="8.6" font-weight="bold" text-anchor="middle" fill="#111" stroke="#111" stroke-width="0.28">chimerism</text>
<text transform="translate(14.30,312.50) rotate(-90)" x="0" y="0" font-size="8.4" text-anchor="middle" textLength="74.0" lengthAdjust="spacingAndGlyphs" fill="#222" stroke="#222" stroke-width="0.2">Frequency of BM (%)</text>
<line x1="33.60" y1="281.40" x2="36.60" y2="281.40" stroke="#222" stroke-width="1.0"/>
<text x="31.80" y="283.60" font-size="6.3" text-anchor="end" fill="#222" stroke="#222" stroke-width="0.22">100</text>
<line x1="33.60" y1="294.20" x2="36.60" y2="294.20" stroke="#222" stroke-width="1.0"/>
<text x="31.80" y="296.40" font-size="6.3" text-anchor="end" fill="#222" stroke="#222" stroke-width="0.22">80</text>
<line x1="33.60" y1="306.90" x2="36.60" y2="306.90" stroke="#222" stroke-width="1.0"/>
<text x="31.80" y="309.10" font-size="6.3" text-anchor="end" fill="#222" stroke="#222" stroke-width="0.22">60</text>
<line x1="33.60" y1="319.70" x2="36.60" y2="319.70" stroke="#222" stroke-width="1.0"/>
<text x="31.80" y="321.90" font-size="6.3" text-anchor="end" fill="#222" stroke="#222" stroke-width="0.22">40</text>
<line x1="33.60" y1="332.50" x2="36.60" y2="332.50" stroke="#222" stroke-width="1.0"/>
<text x="31.80" y="334.70" font-size="6.3" text-anchor="end" fill="#222" stroke="#222" stroke-width="0.22">20</text>
<line x1="33.60" y1="345.20" x2="36.60" y2="345.20" stroke="#222" stroke-width="1.0"/>
<text x="31.80" y="347.40" font-size="6.3" text-anchor="end" fill="#222" stroke="#222" stroke-width="0.22">0</text>
<rect x="39.30" y="286.10" width="6.80" height="59.10" fill="#4f2368" stroke="#3a1552" stroke-width="0.6"/>
<line x1="42.70" y1="345.20" x2="42.70" y2="347.70" stroke="#222" stroke-width="1.0"/>
<line x1="54.10" y1="295.50" x2="54.10" y2="297.50" stroke="#4a0a1c" stroke-width="1.5"/>
<line x1="51.90" y1="295.50" x2="56.30" y2="295.50" stroke="#4a0a1c" stroke-width="1.3"/>
<rect x="50.50" y="297.50" width="7.20" height="47.70" fill="#ab002a" stroke="#7e0a24" stroke-width="0.6"/>
<line x1="54.10" y1="345.20" x2="54.10" y2="347.70" stroke="#222" stroke-width="1.0"/>
<line x1="36.60" y1="279.10" x2="36.60" y2="345.80" stroke="#222" stroke-width="1.2"/>
<line x1="36.00" y1="345.20" x2="59.60" y2="345.20" stroke="#222" stroke-width="1.2"/>
<path d="M41.00,284.30 L41.00,281.50 L54.90,281.50 L54.90,284.30" fill="none" stroke="#222" stroke-width="1.1"/>
<circle cx="47.95" cy="276.80" r="1.2" fill="#222"/>
<text x="42.70" y="356.90" font-size="7.0" text-anchor="middle" textLength="10.3" lengthAdjust="spacingAndGlyphs" fill="#222" stroke="#222" stroke-width="0.22">WT</text>
<text x="54.10" y="356.90" font-size="7.0" text-anchor="middle" textLength="9.5" lengthAdjust="spacingAndGlyphs" fill="#222" stroke="#222" stroke-width="0.22">KO</text>
<text x="158.10" y="264.60" font-size="8.6" font-weight="bold" text-anchor="middle" fill="#111" stroke="#111" stroke-width="0.28">Stem cells and</text>
<text x="158.00" y="275.20" font-size="8.6" font-weight="bold" text-anchor="middle" textLength="97.7" lengthAdjust="spacingAndGlyphs" fill="#111" stroke="#111" stroke-width="0.28">Multipotent progenitors</text>
<text transform="translate(92.80,312.90) rotate(-90)" x="0" y="0" font-size="8.4" text-anchor="middle" textLength="74.0" lengthAdjust="spacingAndGlyphs" fill="#222" stroke="#222" stroke-width="0.2">Frequency of BM (%)</text>
<line x1="113.90" y1="283.70" x2="116.90" y2="283.70" stroke="#222" stroke-width="1.0"/>
<text x="111.00" y="285.90" font-size="6.3" text-anchor="end" fill="#222" stroke="#222" stroke-width="0.22">1.50</text>
<line x1="113.90" y1="304.10" x2="116.90" y2="304.10" stroke="#222" stroke-width="1.0"/>
<text x="111.00" y="306.30" font-size="6.3" text-anchor="end" fill="#222" stroke="#222" stroke-width="0.22">0.10</text>
<line x1="113.90" y1="324.60" x2="116.90" y2="324.60" stroke="#222" stroke-width="1.0"/>
<text x="111.00" y="326.80" font-size="6.3" text-anchor="end" fill="#222" stroke="#222" stroke-width="0.22">0.05</text>
<line x1="113.90" y1="345.10" x2="116.90" y2="345.10" stroke="#222" stroke-width="1.0"/>
<text x="111.00" y="347.30" font-size="6.3" text-anchor="end" fill="#222" stroke="#222" stroke-width="0.22">0.00</text>
<line x1="123.05" y1="339.00" x2="123.05" y2="340.00" stroke="#2a0d38" stroke-width="1.5"/>
<line x1="120.85" y1="339.00" x2="125.25" y2="339.00" stroke="#2a0d38" stroke-width="1.3"/>
<rect x="119.50" y="340.00" width="7.10" height="5.10" fill="#4f2368" stroke="#3a1552" stroke-width="0.6"/>
<line x1="123.05" y1="345.10" x2="123.05" y2="347.60" stroke="#222" stroke-width="1.0"/>
<line x1="135.50" y1="332.30" x2="135.50" y2="334.60" stroke="#4a0a1c" stroke-width="1.5"/>
<line x1="133.30" y1="332.30" x2="137.70" y2="332.30" stroke="#4a0a1c" stroke-width="1.3"/>
<rect x="131.80" y="334.60" width="7.40" height="10.50" fill="#ab002a" stroke="#7e0a24" stroke-width="0.6"/>
<line x1="135.50" y1="345.10" x2="135.50" y2="347.60" stroke="#222" stroke-width="1.0"/>
<line x1="152.80" y1="325.70" x2="152.80" y2="329.20" stroke="#2a0d38" stroke-width="1.5"/>
<line x1="150.60" y1="325.70" x2="155.00" y2="325.70" stroke="#2a0d38" stroke-width="1.3"/>
<rect x="149.50" y="329.20" width="6.60" height="15.90" fill="#4f2368" stroke="#3a1552" stroke-width="0.6"/>
<line x1="152.80" y1="345.10" x2="152.80" y2="347.60" stroke="#222" stroke-width="1.0"/>
<line x1="164.15" y1="331.80" x2="164.15" y2="333.80" stroke="#4a0a1c" stroke-width="1.5"/>
<line x1="161.95" y1="331.80" x2="166.35" y2="331.80" stroke="#4a0a1c" stroke-width="1.3"/>
<rect x="160.30" y="333.80" width="7.70" height="11.30" fill="#ab002a" stroke="#7e0a24" stroke-width="0.6"/>
<line x1="164.15" y1="345.10" x2="164.15" y2="347.60" stroke="#222" stroke-width="1.0"/>
<line x1="180.70" y1="298.50" x2="180.70" y2="302.30" stroke="#2a0d38" stroke-width="1.5"/>
<line x1="178.50" y1="298.50" x2="182.90" y2="298.50" stroke="#2a0d38" stroke-width="1.3"/>
<rect x="176.80" y="302.30" width="7.80" height="42.80" fill="#4f2368" stroke="#3a1552" stroke-width="0.6"/>
<line x1="180.70" y1="345.10" x2="180.70" y2="347.60" stroke="#222" stroke-width="1.0"/>
<line x1="192.90" y1="299.20" x2="192.90" y2="303.50" stroke="#4a0a1c" stroke-width="1.5"/>
<line x1="190.70" y1="299.20" x2="195.10" y2="299.20" stroke="#4a0a1c" stroke-width="1.3"/>
<rect x="189.20" y="303.50" width="7.40" height="41.60" fill="#ab002a" stroke="#7e0a24" stroke-width="0.6"/>
<line x1="192.90" y1="345.10" x2="192.90" y2="347.60" stroke="#222" stroke-width="1.0"/>
<line x1="116.90" y1="280.50" x2="116.90" y2="345.70" stroke="#222" stroke-width="1.2"/>
<line x1="116.30" y1="345.10" x2="199.40" y2="345.10" stroke="#222" stroke-width="1.2"/>
<path d="M122.30,329.40 L122.30,326.60 L135.80,326.60 L135.80,329.40" fill="none" stroke="#222" stroke-width="1.1"/>
<circle cx="129.05" cy="321.50" r="1.2" fill="#222"/>
<text x="123.05" y="357.00" font-size="7.0" text-anchor="middle" textLength="10.3" lengthAdjust="spacingAndGlyphs" fill="#222" stroke="#222" stroke-width="0.22">WT</text>
<text x="135.50" y="357.00" font-size="7.0" text-anchor="middle" textLength="9.5" lengthAdjust="spacingAndGlyphs" fill="#222" stroke="#222" stroke-width="0.22">KO</text>
<text x="152.80" y="357.00" font-size="7.0" text-anchor="middle" textLength="10.3" lengthAdjust="spacingAndGlyphs" fill="#222" stroke="#222" stroke-width="0.22">WT</text>
<text x="164.15" y="357.00" font-size="7.0" text-anchor="middle" textLength="9.5" lengthAdjust="spacingAndGlyphs" fill="#222" stroke="#222" stroke-width="0.22">KO</text>
<text x="180.70" y="357.00" font-size="7.0" text-anchor="middle" textLength="10.3" lengthAdjust="spacingAndGlyphs" fill="#222" stroke="#222" stroke-width="0.22">WT</text>
<text x="192.90" y="357.00" font-size="7.0" text-anchor="middle" textLength="9.5" lengthAdjust="spacingAndGlyphs" fill="#222" stroke="#222" stroke-width="0.22">KO</text>
<line x1="117.70" y1="361.50" x2="140.80" y2="361.50" stroke="#222" stroke-width="1.35"/>
<text x="129.25" y="370.30" font-size="6.5" text-anchor="middle" fill="#333" stroke="#333" stroke-width="0.22">HSC</text>
<line x1="146.50" y1="361.50" x2="169.50" y2="361.50" stroke="#222" stroke-width="1.35"/>
<text x="158.00" y="370.30" font-size="6.5" text-anchor="middle" fill="#333" stroke="#333" stroke-width="0.22">MPP1</text>
<line x1="176.50" y1="361.50" x2="199.70" y2="361.50" stroke="#222" stroke-width="1.35"/>
<text x="188.10" y="370.30" font-size="6.5" text-anchor="middle" fill="#333" stroke="#333" stroke-width="0.22">MPP2</text>
<text x="278.50" y="260.00" font-size="8.6" font-weight="bold" text-anchor="middle" fill="#111" stroke="#111" stroke-width="0.28">Myeloid</text>
<text x="278.50" y="271.40" font-size="8.6" font-weight="bold" text-anchor="middle" fill="#111" stroke="#111" stroke-width="0.28">progenitors</text>
<text transform="translate(229.50,312.90) rotate(-90)" x="0" y="0" font-size="8.4" text-anchor="middle" textLength="74.0" lengthAdjust="spacingAndGlyphs" fill="#222" stroke="#222" stroke-width="0.2">Frequency of BM (%)</text>
<line x1="247.60" y1="284.00" x2="250.60" y2="284.00" stroke="#222" stroke-width="1.0"/>
<text x="245.20" y="286.20" font-size="6.3" text-anchor="end" fill="#222" stroke="#222" stroke-width="0.22">1.0</text>
<line x1="247.60" y1="314.70" x2="250.60" y2="314.70" stroke="#222" stroke-width="1.0"/>
<text x="245.20" y="316.90" font-size="6.3" text-anchor="end" fill="#222" stroke="#222" stroke-width="0.22">0.5</text>
<line x1="247.60" y1="345.40" x2="250.60" y2="345.40" stroke="#222" stroke-width="1.0"/>
<text x="245.20" y="347.60" font-size="6.3" text-anchor="end" fill="#222" stroke="#222" stroke-width="0.22">0.0</text>
<line x1="256.30" y1="311.90" x2="256.30" y2="315.80" stroke="#2a0d38" stroke-width="1.5"/>
<line x1="254.10" y1="311.90" x2="258.50" y2="311.90" stroke="#2a0d38" stroke-width="1.3"/>
<rect x="252.60" y="315.80" width="7.40" height="29.60" fill="#4f2368" stroke="#3a1552" stroke-width="0.6"/>
<line x1="256.30" y1="345.40" x2="256.30" y2="347.90" stroke="#222" stroke-width="1.0"/>
<line x1="268.75" y1="325.00" x2="268.75" y2="328.10" stroke="#4a0a1c" stroke-width="1.5"/>
<line x1="266.55" y1="325.00" x2="270.95" y2="325.00" stroke="#4a0a1c" stroke-width="1.3"/>
<rect x="265.20" y="328.10" width="7.10" height="17.30" fill="#ab002a" stroke="#7e0a24" stroke-width="0.6"/>
<line x1="268.75" y1="345.40" x2="268.75" y2="347.90" stroke="#222" stroke-width="1.0"/>
<line x1="285.05" y1="286.50" x2="285.05" y2="290.40" stroke="#2a0d38" stroke-width="1.5"/>
<line x1="282.85" y1="286.50" x2="287.25" y2="286.50" stroke="#2a0d38" stroke-width="1.3"/>
<rect x="281.50" y="290.40" width="7.10" height="55.00" fill="#4f2368" stroke="#3a1552" stroke-width="0.6"/>
<line x1="285.05" y1="345.40" x2="285.05" y2="347.90" stroke="#222" stroke-width="1.0"/>
<line x1="297.05" y1="300.40" x2="297.05" y2="303.70" stroke="#4a0a1c" stroke-width="1.5"/>
<line x1="294.85" y1="300.40" x2="299.25" y2="300.40" stroke="#4a0a1c" stroke-width="1.3"/>
<rect x="293.40" y="303.70" width="7.30" height="41.70" fill="#ab002a" stroke="#7e0a24" stroke-width="0.6"/>
<line x1="297.05" y1="345.40" x2="297.05" y2="347.90" stroke="#222" stroke-width="1.0"/>
<line x1="313.00" y1="321.30" x2="313.00" y2="324.10" stroke="#2a0d38" stroke-width="1.5"/>
<line x1="310.80" y1="321.30" x2="315.20" y2="321.30" stroke="#2a0d38" stroke-width="1.3"/>
<rect x="309.40" y="324.10" width="7.20" height="21.30" fill="#4f2368" stroke="#3a1552" stroke-width="0.6"/>
<line x1="313.00" y1="345.40" x2="313.00" y2="347.90" stroke="#222" stroke-width="1.0"/>
<line x1="325.40" y1="329.30" x2="325.40" y2="330.60" stroke="#4a0a1c" stroke-width="1.5"/>
<line x1="323.20" y1="329.30" x2="327.60" y2="329.30" stroke="#4a0a1c" stroke-width="1.3"/>
<rect x="321.60" y="330.60" width="7.60" height="14.80" fill="#ab002a" stroke="#7e0a24" stroke-width="0.6"/>
<line x1="325.40" y1="345.40" x2="325.40" y2="347.90" stroke="#222" stroke-width="1.0"/>
<line x1="250.60" y1="282.30" x2="250.60" y2="346.00" stroke="#222" stroke-width="1.2"/>
<line x1="250.00" y1="345.40" x2="331.40" y2="345.40" stroke="#222" stroke-width="1.2"/>
<path d="M255.80,308.20 L255.80,305.40 L269.20,305.40 L269.20,308.20" fill="none" stroke="#222" stroke-width="1.1"/>
<circle cx="262.50" cy="300.40" r="1.2" fill="#222"/>
<path d="M284.60,285.10 L284.60,282.30 L297.70,282.30 L297.70,285.10" fill="none" stroke="#222" stroke-width="1.1"/>
<circle cx="291.15" cy="277.30" r="1.2" fill="#222"/>
<text x="256.30" y="357.20" font-size="7.0" text-anchor="middle" textLength="10.3" lengthAdjust="spacingAndGlyphs" fill="#222" stroke="#222" stroke-width="0.22">WT</text>
<text x="268.75" y="357.20" font-size="7.0" text-anchor="middle" textLength="9.5" lengthAdjust="spacingAndGlyphs" fill="#222" stroke="#222" stroke-width="0.22">KO</text>
<text x="285.05" y="357.20" font-size="7.0" text-anchor="middle" textLength="10.3" lengthAdjust="spacingAndGlyphs" fill="#222" stroke="#222" stroke-width="0.22">WT</text>
<text x="297.05" y="357.20" font-size="7.0" text-anchor="middle" textLength="9.5" lengthAdjust="spacingAndGlyphs" fill="#222" stroke="#222" stroke-width="0.22">KO</text>
<text x="313.00" y="357.20" font-size="7.0" text-anchor="middle" textLength="10.3" lengthAdjust="spacingAndGlyphs" fill="#222" stroke="#222" stroke-width="0.22">WT</text>
<text x="325.40" y="357.20" font-size="7.0" text-anchor="middle" textLength="9.5" lengthAdjust="spacingAndGlyphs" fill="#222" stroke="#222" stroke-width="0.22">KO</text>
<line x1="251.00" y1="361.40" x2="273.60" y2="361.40" stroke="#222" stroke-width="1.35"/>
<text x="262.30" y="370.10" font-size="6.5" text-anchor="middle" fill="#333" stroke="#333" stroke-width="0.22">CMP</text>
<line x1="279.50" y1="361.40" x2="302.60" y2="361.40" stroke="#222" stroke-width="1.35"/>
<text x="291.05" y="370.10" font-size="6.5" text-anchor="middle" fill="#333" stroke="#333" stroke-width="0.22">GMP</text>
<line x1="309.00" y1="361.40" x2="331.60" y2="361.40" stroke="#222" stroke-width="1.35"/>
<text x="320.30" y="370.10" font-size="6.5" text-anchor="middle" fill="#333" stroke="#333" stroke-width="0.22">MEP</text>
<text x="385.60" y="257.10" font-size="8.6" font-weight="bold" text-anchor="middle" textLength="41.3" lengthAdjust="spacingAndGlyphs" fill="#111" stroke="#111" stroke-width="0.28">Lymphoid</text>
<text x="385.60" y="268.50" font-size="8.6" font-weight="bold" text-anchor="middle" fill="#111" stroke="#111" stroke-width="0.28">progenitors</text>
<text transform="translate(354.40,313.00) rotate(-90)" x="0" y="0" font-size="8.4" text-anchor="middle" textLength="74.0" lengthAdjust="spacingAndGlyphs" fill="#222" stroke="#222" stroke-width="0.2">Frequency of BM (%)</text>
<text x="372.70" y="286.60" font-size="6.3" text-anchor="end" fill="#222" stroke="#222" stroke-width="0.22">1.00</text>
<text x="372.70" y="298.70" font-size="6.3" text-anchor="end" fill="#222" stroke="#222" stroke-width="0.22">0.08</text>
<text x="372.70" y="310.80" font-size="6.3" text-anchor="end" fill="#222" stroke="#222" stroke-width="0.22">0.06</text>
<text x="372.70" y="323.20" font-size="6.3" text-anchor="end" fill="#222" stroke="#222" stroke-width="0.22">0.04</text>
<text x="372.70" y="335.20" font-size="6.3" text-anchor="end" fill="#222" stroke="#222" stroke-width="0.22">0.02</text>
<text x="372.70" y="347.20" font-size="6.3" text-anchor="end" fill="#222" stroke="#222" stroke-width="0.22">0.00</text>
<line x1="381.75" y1="303.70" x2="381.75" y2="304.50" stroke="#2a0d38" stroke-width="1.5"/>
<line x1="379.55" y1="303.70" x2="383.95" y2="303.70" stroke="#2a0d38" stroke-width="1.3"/>
<rect x="377.80" y="304.50" width="7.90" height="40.50" fill="#4f2368" stroke="#3a1552" stroke-width="0.6"/>
<line x1="381.75" y1="345.00" x2="381.75" y2="347.50" stroke="#222" stroke-width="1.0"/>
<line x1="393.55" y1="292.10" x2="393.55" y2="299.50" stroke="#4a0a1c" stroke-width="1.5"/>
<line x1="391.35" y1="292.10" x2="395.75" y2="292.10" stroke="#4a0a1c" stroke-width="1.3"/>
<rect x="389.50" y="299.50" width="8.10" height="45.50" fill="#ab002a" stroke="#7e0a24" stroke-width="0.6"/>
<line x1="393.55" y1="345.00" x2="393.55" y2="347.50" stroke="#222" stroke-width="1.0"/>
<line x1="375.50" y1="284.10" x2="375.50" y2="345.60" stroke="#222" stroke-width="1.2"/>
<line x1="374.90" y1="345.00" x2="399.60" y2="345.00" stroke="#222" stroke-width="1.2"/>
<text x="381.75" y="356.80" font-size="7.0" text-anchor="middle" textLength="10.3" lengthAdjust="spacingAndGlyphs" fill="#222" stroke="#222" stroke-width="0.22">WT</text>
<text x="393.55" y="356.80" font-size="7.0" text-anchor="middle" textLength="9.5" lengthAdjust="spacingAndGlyphs" fill="#222" stroke="#222" stroke-width="0.22">KO</text>
<line x1="376.80" y1="361.50" x2="399.80" y2="361.50" stroke="#222" stroke-width="1.35"/>
<text x="388.30" y="369.70" font-size="6.5" text-anchor="middle" fill="#333" stroke="#333" stroke-width="0.22">CLP</text>
<text transform="translate(7.61,396.90) scale(0.89,1)" x="0" y="0" font-size="11.8" font-weight="bold" fill="#111" stroke="#111" stroke-width="0.25">I</text>
<text transform="translate(126.14,396.90) scale(0.89,1)" x="0" y="0" font-size="11.8" font-weight="bold" fill="#111" stroke="#111" stroke-width="0.25">J</text>
<text transform="translate(410.11,396.90) scale(0.89,1)" x="0" y="0" font-size="11.8" font-weight="bold" fill="#111" stroke="#111" stroke-width="0.25">K</text>
<text x="42.00" y="410.40" font-size="8.6" font-weight="bold" textLength="72.6" lengthAdjust="spacingAndGlyphs" fill="#111" stroke="#111" stroke-width="0.28">Donor Chimerism</text>
<text transform="translate(11.40,443.50) rotate(-90)" x="0" y="0" font-size="9.1" text-anchor="middle" textLength="70.0" lengthAdjust="spacingAndGlyphs" fill="#222" stroke="#222" stroke-width="0.2">Donor reconstitution</text>
<text transform="translate(22.50,443.50) rotate(-90)" x="0" y="0" font-size="9.1" text-anchor="middle" textLength="33.8" lengthAdjust="spacingAndGlyphs" fill="#222" stroke="#222" stroke-width="0.2">(% of PB)</text>
<line x1="43.90" y1="415.80" x2="43.90" y2="469.50" stroke="#222" stroke-width="1.2"/>
<line x1="43.30" y1="468.90" x2="111.90" y2="468.90" stroke="#222" stroke-width="1.2"/>
<line x1="40.90" y1="418.80" x2="43.90" y2="418.80" stroke="#222" stroke-width="1.0"/>
<text x="37.10" y="421.00" font-size="6.1" text-anchor="end" textLength="10.2" lengthAdjust="spacingAndGlyphs" fill="#222" stroke="#222" stroke-width="0.22">100</text>
<line x1="40.90" y1="428.80" x2="43.90" y2="428.80" stroke="#222" stroke-width="1.0"/>
<text x="37.10" y="431.00" font-size="6.1" text-anchor="end" textLength="6.8" lengthAdjust="spacingAndGlyphs" fill="#222" stroke="#222" stroke-width="0.22">80</text>
<line x1="40.90" y1="438.80" x2="43.90" y2="438.80" stroke="#222" stroke-width="1.0"/>
<text x="37.10" y="441.00" font-size="6.1" text-anchor="end" textLength="6.8" lengthAdjust="spacingAndGlyphs" fill="#222" stroke="#222" stroke-width="0.22">60</text>
<line x1="40.90" y1="448.80" x2="43.90" y2="448.80" stroke="#222" stroke-width="1.0"/>
<text x="37.10" y="451.00" font-size="6.1" text-anchor="end" textLength="6.8" lengthAdjust="spacingAndGlyphs" fill="#222" stroke="#222" stroke-width="0.22">40</text>
<line x1="40.90" y1="458.90" x2="43.90" y2="458.90" stroke="#222" stroke-width="1.0"/>
<text x="37.10" y="461.10" font-size="6.1" text-anchor="end" textLength="6.8" lengthAdjust="spacingAndGlyphs" fill="#222" stroke="#222" stroke-width="0.22">20</text>
<line x1="40.90" y1="468.90" x2="43.90" y2="468.90" stroke="#222" stroke-width="1.0"/>
<text x="37.10" y="471.10" font-size="6.1" text-anchor="end" textLength="3.4" lengthAdjust="spacingAndGlyphs" fill="#222" stroke="#222" stroke-width="0.22">0</text>
<line x1="52.40" y1="468.90" x2="52.40" y2="471.90" stroke="#222" stroke-width="1.0"/>
<text x="52.40" y="481.00" font-size="6.2" text-anchor="middle" fill="#222" stroke="#222" stroke-width="0.15">4</text>
<line x1="69.60" y1="468.90" x2="69.60" y2="471.90" stroke="#222" stroke-width="1.0"/>
<text x="69.60" y="481.00" font-size="6.2" text-anchor="middle" fill="#222" stroke="#222" stroke-width="0.15">8</text>
<line x1="86.50" y1="468.90" x2="86.50" y2="471.90" stroke="#222" stroke-width="1.0"/>
<text x="86.50" y="481.00" font-size="6.2" text-anchor="middle" fill="#222" stroke="#222" stroke-width="0.15">12</text>
<line x1="103.90" y1="468.90" x2="103.90" y2="471.90" stroke="#222" stroke-width="1.0"/>
<text x="103.90" y="481.00" font-size="6.2" text-anchor="middle" fill="#222" stroke="#222" stroke-width="0.15">16</text>
<text x="78.10" y="493.40" font-size="9.7" text-anchor="middle" textLength="22.8" lengthAdjust="spacingAndGlyphs" fill="#1a1a1a" stroke="#1a1a1a" stroke-width="0.32">Weeks</text>
<path d="M52.40,441.50 L69.60,442.30 L86.50,442.30 L103.90,441.10" fill="none" stroke="#eee0e4" stroke-width="2.2" opacity="0.5"/>
<path d="M52.40,441.50 L69.60,442.30 L86.50,442.30 L103.90,441.10" fill="none" stroke="#c2c2c2" stroke-width="0.9"/>
<rect x="51.80" y="440.90" width="1.20" height="1.20" fill="#555"/>
<line x1="52.40" y1="438.80" x2="52.40" y2="444.20" stroke="#444" stroke-width="0.8"/>
<rect x="69.00" y="441.70" width="1.20" height="1.20" fill="#555"/>
<line x1="69.60" y1="439.60" x2="69.60" y2="445.00" stroke="#444" stroke-width="0.8"/>
<rect x="85.90" y="441.70" width="1.20" height="1.20" fill="#555"/>
<line x1="86.50" y1="439.60" x2="86.50" y2="445.00" stroke="#444" stroke-width="0.8"/>
<rect x="103.30" y="440.50" width="1.20" height="1.20" fill="#555"/>
<line x1="103.90" y1="438.40" x2="103.90" y2="443.80" stroke="#444" stroke-width="0.8"/>
<path d="M52.40,448.80 L69.60,450.80 L86.50,451.20 L103.90,452.30" fill="none" stroke="#eba9bc" stroke-width="2.8" opacity="0.45"/>
<path d="M52.40,448.80 L69.60,450.80 L86.50,451.20 L103.90,452.30" fill="none" stroke="#5c1832" stroke-width="1.0"/>
<rect x="51.65" y="448.05" width="1.50" height="1.50" fill="#2a0a16"/>
<line x1="52.40" y1="446.80" x2="52.40" y2="450.80" stroke="#2a0a16" stroke-width="0.8"/>
<rect x="68.85" y="450.05" width="1.50" height="1.50" fill="#2a0a16"/>
<line x1="69.60" y1="448.80" x2="69.60" y2="452.80" stroke="#2a0a16" stroke-width="0.8"/>
<rect x="85.75" y="450.45" width="1.50" height="1.50" fill="#2a0a16"/>
<line x1="86.50" y1="449.20" x2="86.50" y2="453.20" stroke="#2a0a16" stroke-width="0.8"/>
<rect x="103.15" y="451.55" width="1.50" height="1.50" fill="#2a0a16"/>
<line x1="103.90" y1="450.30" x2="103.90" y2="454.30" stroke="#2a0a16" stroke-width="0.8"/>
<circle cx="52.40" cy="433.80" r="1.2" fill="#222"/>
<circle cx="69.60" cy="433.80" r="1.2" fill="#222"/>
<circle cx="86.50" cy="433.80" r="1.2" fill="#222"/>
<circle cx="102.15" cy="433.80" r="1.2" fill="#222"/>
<circle cx="105.65" cy="433.80" r="1.2" fill="#222"/>
<text x="168.20" y="410.00" font-size="8.6" font-weight="bold" textLength="31.8" lengthAdjust="spacingAndGlyphs" fill="#111" stroke="#111" stroke-width="0.28">Myeloid</text>
<text transform="translate(131.30,444.40) rotate(-90)" x="0" y="0" font-size="9.1" text-anchor="middle" textLength="56.0" lengthAdjust="spacingAndGlyphs" fill="#222" stroke="#222" stroke-width="0.2">Percent of donor</text>
<line x1="150.40" y1="417.40" x2="150.40" y2="469.80" stroke="#222" stroke-width="1.2"/>
<line x1="149.80" y1="469.20" x2="218.10" y2="469.20" stroke="#222" stroke-width="1.2"/>
<line x1="147.40" y1="419.70" x2="150.40" y2="419.70" stroke="#222" stroke-width="1.0"/>
<text x="143.50" y="422.22" font-size="7.0" text-anchor="end" textLength="6.8" lengthAdjust="spacingAndGlyphs" fill="#222" stroke="#222" stroke-width="0.22">80</text>
<line x1="147.40" y1="432.20" x2="150.40" y2="432.20" stroke="#222" stroke-width="1.0"/>
<text x="143.50" y="434.72" font-size="7.0" text-anchor="end" textLength="6.8" lengthAdjust="spacingAndGlyphs" fill="#222" stroke="#222" stroke-width="0.22">60</text>
<line x1="147.40" y1="444.40" x2="150.40" y2="444.40" stroke="#222" stroke-width="1.0"/>
<text x="143.50" y="446.92" font-size="7.0" text-anchor="end" textLength="6.8" lengthAdjust="spacingAndGlyphs" fill="#222" stroke="#222" stroke-width="0.22">40</text>
<line x1="147.40" y1="456.90" x2="150.40" y2="456.90" stroke="#222" stroke-width="1.0"/>
<text x="143.50" y="459.42" font-size="7.0" text-anchor="end" textLength="6.8" lengthAdjust="spacingAndGlyphs" fill="#222" stroke="#222" stroke-width="0.22">20</text>
<line x1="147.40" y1="469.20" x2="150.40" y2="469.20" stroke="#222" stroke-width="1.0"/>
<text x="143.50" y="471.72" font-size="7.0" text-anchor="end" textLength="3.4" lengthAdjust="spacingAndGlyphs" fill="#222" stroke="#222" stroke-width="0.22">0</text>
<line x1="158.50" y1="469.20" x2="158.50" y2="472.20" stroke="#222" stroke-width="1.0"/>
<text x="158.50" y="480.90" font-size="6.2" text-anchor="middle" fill="#222" stroke="#222" stroke-width="0.15">4</text>
<line x1="175.50" y1="469.20" x2="175.50" y2="472.20" stroke="#222" stroke-width="1.0"/>
<text x="175.50" y="480.90" font-size="6.2" text-anchor="middle" fill="#222" stroke="#222" stroke-width="0.15">8</text>
<line x1="192.70" y1="469.20" x2="192.70" y2="472.20" stroke="#222" stroke-width="1.0"/>
<text x="192.70" y="480.90" font-size="6.2" text-anchor="middle" fill="#222" stroke="#222" stroke-width="0.15">12</text>
<line x1="209.60" y1="469.20" x2="209.60" y2="472.20" stroke="#222" stroke-width="1.0"/>
<text x="209.60" y="480.90" font-size="6.2" text-anchor="middle" fill="#222" stroke="#222" stroke-width="0.15">16</text>
<text x="183.90" y="493.10" font-size="9.7" text-anchor="middle" textLength="22.8" lengthAdjust="spacingAndGlyphs" fill="#1a1a1a" stroke="#1a1a1a" stroke-width="0.32">Weeks</text>
<path d="M158.50,460.00 L175.50,457.70 L192.70,458.90 L209.60,457.70" fill="none" stroke="#eee0e4" stroke-width="2.2" opacity="0.5"/>
<path d="M158.50,460.00 L175.50,457.70 L192.70,458.90 L209.60,457.70" fill="none" stroke="#c2c2c2" stroke-width="0.9"/>
<rect x="157.90" y="459.40" width="1.20" height="1.20" fill="#555"/>
<line x1="158.50" y1="458.00" x2="158.50" y2="462.00" stroke="#444" stroke-width="0.8"/>
<rect x="174.90" y="457.10" width="1.20" height="1.20" fill="#555"/>
<line x1="175.50" y1="454.70" x2="175.50" y2="460.70" stroke="#444" stroke-width="0.8"/>
<rect x="192.10" y="458.30" width="1.20" height="1.20" fill="#555"/>
<line x1="192.70" y1="456.40" x2="192.70" y2="461.40" stroke="#444" stroke-width="0.8"/>
<rect x="209.00" y="457.10" width="1.20" height="1.20" fill="#555"/>
<line x1="209.60" y1="454.70" x2="209.60" y2="460.70" stroke="#444" stroke-width="0.8"/>
<path d="M158.50,463.50 L175.50,464.60 L192.70,465.40 L209.60,464.60" fill="none" stroke="#eba9bc" stroke-width="2.8" opacity="0.45"/>
<path d="M158.50,463.50 L175.50,464.60 L192.70,465.40 L209.60,464.60" fill="none" stroke="#5c1832" stroke-width="1.0"/>
<rect x="157.75" y="462.75" width="1.50" height="1.50" fill="#2a0a16"/>
<line x1="158.50" y1="462.50" x2="158.50" y2="464.50" stroke="#2a0a16" stroke-width="0.8"/>
<rect x="174.75" y="463.85" width="1.50" height="1.50" fill="#2a0a16"/>
<line x1="175.50" y1="463.60" x2="175.50" y2="465.60" stroke="#2a0a16" stroke-width="0.8"/>
<rect x="191.95" y="464.65" width="1.50" height="1.50" fill="#2a0a16"/>
<line x1="192.70" y1="464.40" x2="192.70" y2="466.40" stroke="#2a0a16" stroke-width="0.8"/>
<rect x="208.85" y="463.85" width="1.50" height="1.50" fill="#2a0a16"/>
<line x1="209.60" y1="463.60" x2="209.60" y2="465.60" stroke="#2a0a16" stroke-width="0.8"/>
<circle cx="156.75" cy="454.60" r="1.2" fill="#222"/>
<circle cx="160.25" cy="454.60" r="1.2" fill="#222"/>
<circle cx="173.75" cy="450.80" r="1.2" fill="#222"/>
<circle cx="177.25" cy="450.80" r="1.2" fill="#222"/>
<circle cx="190.95" cy="453.40" r="1.2" fill="#222"/>
<circle cx="194.45" cy="453.40" r="1.2" fill="#222"/>
<circle cx="209.60" cy="450.00" r="1.2" fill="#222"/>
<text x="263.20" y="410.40" font-size="8.6" font-weight="bold" textLength="24.1" lengthAdjust="spacingAndGlyphs" fill="#111" stroke="#111" stroke-width="0.28">B Cell</text>
<line x1="241.20" y1="417.30" x2="241.20" y2="469.80" stroke="#222" stroke-width="1.2"/>
<line x1="240.60" y1="469.20" x2="308.70" y2="469.20" stroke="#222" stroke-width="1.2"/>
<line x1="238.20" y1="419.60" x2="241.20" y2="419.60" stroke="#222" stroke-width="1.0"/>
<text x="237.10" y="422.12" font-size="7.0" text-anchor="end" textLength="6.8" lengthAdjust="spacingAndGlyphs" fill="#222" stroke="#222" stroke-width="0.22">80</text>
<line x1="238.20" y1="432.20" x2="241.20" y2="432.20" stroke="#222" stroke-width="1.0"/>
<text x="237.10" y="434.72" font-size="7.0" text-anchor="end" textLength="6.8" lengthAdjust="spacingAndGlyphs" fill="#222" stroke="#222" stroke-width="0.22">60</text>
<line x1="238.20" y1="444.50" x2="241.20" y2="444.50" stroke="#222" stroke-width="1.0"/>
<text x="237.10" y="447.02" font-size="7.0" text-anchor="end" textLength="6.8" lengthAdjust="spacingAndGlyphs" fill="#222" stroke="#222" stroke-width="0.22">40</text>
<line x1="238.20" y1="456.80" x2="241.20" y2="456.80" stroke="#222" stroke-width="1.0"/>
<text x="237.10" y="459.32" font-size="7.0" text-anchor="end" textLength="6.8" lengthAdjust="spacingAndGlyphs" fill="#222" stroke="#222" stroke-width="0.22">20</text>
<line x1="238.20" y1="469.20" x2="241.20" y2="469.20" stroke="#222" stroke-width="1.0"/>
<text x="237.10" y="471.72" font-size="7.0" text-anchor="end" textLength="3.4" lengthAdjust="spacingAndGlyphs" fill="#222" stroke="#222" stroke-width="0.22">0</text>
<line x1="249.90" y1="469.20" x2="249.90" y2="472.20" stroke="#222" stroke-width="1.0"/>
<text x="249.90" y="480.90" font-size="6.2" text-anchor="middle" fill="#222" stroke="#222" stroke-width="0.15">4</text>
<line x1="266.20" y1="469.20" x2="266.20" y2="472.20" stroke="#222" stroke-width="1.0"/>
<text x="266.20" y="480.90" font-size="6.2" text-anchor="middle" fill="#222" stroke="#222" stroke-width="0.15">8</text>
<line x1="283.20" y1="469.20" x2="283.20" y2="472.20" stroke="#222" stroke-width="1.0"/>
<text x="283.20" y="480.90" font-size="6.2" text-anchor="middle" fill="#222" stroke="#222" stroke-width="0.15">12</text>
<line x1="300.40" y1="469.20" x2="300.40" y2="472.20" stroke="#222" stroke-width="1.0"/>
<text x="300.40" y="480.90" font-size="6.2" text-anchor="middle" fill="#222" stroke="#222" stroke-width="0.15">16</text>
<text x="275.00" y="492.90" font-size="9.7" text-anchor="middle" textLength="22.8" lengthAdjust="spacingAndGlyphs" fill="#1a1a1a" stroke="#1a1a1a" stroke-width="0.32">Weeks</text>
<path d="M249.90,435.30 C252.83,436.36 260.21,439.09 266.20,441.20 C272.19,443.31 277.04,446.41 283.20,447.00 C289.36,447.59 297.30,444.95 300.40,444.50" fill="none" stroke="#eee0e4" stroke-width="2.2" opacity="0.5"/>
<path d="M249.90,435.30 C252.83,436.36 260.21,439.09 266.20,441.20 C272.19,443.31 277.04,446.41 283.20,447.00 C289.36,447.59 297.30,444.95 300.40,444.50" fill="none" stroke="#c2c2c2" stroke-width="0.9"/>
<rect x="249.30" y="434.70" width="1.20" height="1.20" fill="#555"/>
<line x1="249.90" y1="431.30" x2="249.90" y2="439.30" stroke="#444" stroke-width="0.8"/>
<rect x="265.60" y="440.60" width="1.20" height="1.20" fill="#555"/>
<line x1="266.20" y1="437.70" x2="266.20" y2="444.70" stroke="#444" stroke-width="0.8"/>
<rect x="282.60" y="446.40" width="1.20" height="1.20" fill="#555"/>
<line x1="283.20" y1="443.00" x2="283.20" y2="451.00" stroke="#444" stroke-width="0.8"/>
<rect x="299.80" y="443.90" width="1.20" height="1.20" fill="#555"/>
<line x1="300.40" y1="441.00" x2="300.40" y2="448.00" stroke="#444" stroke-width="0.8"/>
<path d="M249.90,437.80 C252.83,439.51 260.21,444.98 266.20,447.30 C272.19,449.62 277.04,450.75 283.20,450.70 C289.36,450.65 297.30,447.67 300.40,447.00" fill="none" stroke="#eba9bc" stroke-width="2.8" opacity="0.45"/>
<path d="M249.90,437.80 C252.83,439.51 260.21,444.98 266.20,447.30 C272.19,449.62 277.04,450.75 283.20,450.70 C289.36,450.65 297.30,447.67 300.40,447.00" fill="none" stroke="#5c1832" stroke-width="1.0"/>
<rect x="249.15" y="437.05" width="1.50" height="1.50" fill="#2a0a16"/>
<line x1="249.90" y1="435.80" x2="249.90" y2="439.80" stroke="#2a0a16" stroke-width="0.8"/>
<rect x="265.45" y="446.55" width="1.50" height="1.50" fill="#2a0a16"/>
<line x1="266.20" y1="445.30" x2="266.20" y2="449.30" stroke="#2a0a16" stroke-width="0.8"/>
<rect x="282.45" y="449.95" width="1.50" height="1.50" fill="#2a0a16"/>
<line x1="283.20" y1="448.20" x2="283.20" y2="453.20" stroke="#2a0a16" stroke-width="0.8"/>
<rect x="299.65" y="446.25" width="1.50" height="1.50" fill="#2a0a16"/>
<line x1="300.40" y1="445.00" x2="300.40" y2="449.00" stroke="#2a0a16" stroke-width="0.8"/>
<circle cx="266.20" cy="434.70" r="1.2" fill="#222"/>
<text x="354.60" y="410.40" font-size="8.6" font-weight="bold" textLength="22.8" lengthAdjust="spacingAndGlyphs" fill="#111" stroke="#111" stroke-width="0.28">T Cell</text>
<line x1="331.50" y1="417.30" x2="331.50" y2="469.80" stroke="#222" stroke-width="1.2"/>
<line x1="330.90" y1="469.20" x2="399.70" y2="469.20" stroke="#222" stroke-width="1.2"/>
<line x1="328.50" y1="419.60" x2="331.50" y2="419.60" stroke="#222" stroke-width="1.0"/>
<text x="325.40" y="421.80" font-size="6.1" text-anchor="end" textLength="6.8" lengthAdjust="spacingAndGlyphs" fill="#222" stroke="#222" stroke-width="0.22">80</text>
<line x1="328.50" y1="432.20" x2="331.50" y2="432.20" stroke="#222" stroke-width="1.0"/>
<text x="325.40" y="434.40" font-size="6.1" text-anchor="end" textLength="6.8" lengthAdjust="spacingAndGlyphs" fill="#222" stroke="#222" stroke-width="0.22">60</text>
<line x1="328.50" y1="444.50" x2="331.50" y2="444.50" stroke="#222" stroke-width="1.0"/>
<text x="325.40" y="446.70" font-size="6.1" text-anchor="end" textLength="6.8" lengthAdjust="spacingAndGlyphs" fill="#222" stroke="#222" stroke-width="0.22">40</text>
<line x1="328.50" y1="456.80" x2="331.50" y2="456.80" stroke="#222" stroke-width="1.0"/>
<text x="325.40" y="459.00" font-size="6.1" text-anchor="end" textLength="6.8" lengthAdjust="spacingAndGlyphs" fill="#222" stroke="#222" stroke-width="0.22">20</text>
<line x1="328.50" y1="469.20" x2="331.50" y2="469.20" stroke="#222" stroke-width="1.0"/>
<text x="325.40" y="471.40" font-size="6.1" text-anchor="end" textLength="3.4" lengthAdjust="spacingAndGlyphs" fill="#222" stroke="#222" stroke-width="0.22">0</text>
<line x1="340.80" y1="469.20" x2="340.80" y2="472.20" stroke="#222" stroke-width="1.0"/>
<text x="340.80" y="480.60" font-size="6.2" text-anchor="middle" fill="#222" stroke="#222" stroke-width="0.15">4</text>
<line x1="357.90" y1="469.20" x2="357.90" y2="472.20" stroke="#222" stroke-width="1.0"/>
<text x="357.90" y="480.60" font-size="6.2" text-anchor="middle" fill="#222" stroke="#222" stroke-width="0.15">8</text>
<line x1="375.00" y1="469.20" x2="375.00" y2="472.20" stroke="#222" stroke-width="1.0"/>
<text x="375.00" y="480.60" font-size="6.2" text-anchor="middle" fill="#222" stroke="#222" stroke-width="0.15">12</text>
<line x1="393.00" y1="469.20" x2="393.00" y2="472.20" stroke="#222" stroke-width="1.0"/>
<text x="393.00" y="480.60" font-size="6.2" text-anchor="middle" fill="#222" stroke="#222" stroke-width="0.15">16</text>
<text x="365.70" y="493.00" font-size="9.7" text-anchor="middle" textLength="22.8" lengthAdjust="spacingAndGlyphs" fill="#1a1a1a" stroke="#1a1a1a" stroke-width="0.32">Weeks</text>
<path d="M340.80,451.60 L357.90,448.10 L375.00,441.70 L393.00,444.20" fill="none" stroke="#eee0e4" stroke-width="2.2" opacity="0.5"/>
<path d="M340.80,451.60 L357.90,448.10 L375.00,441.70 L393.00,444.20" fill="none" stroke="#c2c2c2" stroke-width="0.9"/>
<rect x="340.20" y="451.00" width="1.20" height="1.20" fill="#555"/>
<line x1="340.80" y1="447.60" x2="340.80" y2="455.60" stroke="#444" stroke-width="0.8"/>
<rect x="357.30" y="447.50" width="1.20" height="1.20" fill="#555"/>
<line x1="357.90" y1="445.10" x2="357.90" y2="451.10" stroke="#444" stroke-width="0.8"/>
<rect x="374.40" y="441.10" width="1.20" height="1.20" fill="#555"/>
<line x1="375.00" y1="436.70" x2="375.00" y2="446.70" stroke="#444" stroke-width="0.8"/>
<rect x="392.40" y="443.60" width="1.20" height="1.20" fill="#555"/>
<line x1="393.00" y1="440.20" x2="393.00" y2="448.20" stroke="#444" stroke-width="0.8"/>
<path d="M340.80,445.50 L357.90,436.20 L375.00,431.30 L393.00,435.30" fill="none" stroke="#eba9bc" stroke-width="2.8" opacity="0.45"/>
<path d="M340.80,445.50 L357.90,436.20 L375.00,431.30 L393.00,435.30" fill="none" stroke="#5c1832" stroke-width="1.0"/>
<rect x="340.05" y="444.75" width="1.50" height="1.50" fill="#2a0a16"/>
<line x1="340.80" y1="443.00" x2="340.80" y2="448.00" stroke="#2a0a16" stroke-width="0.8"/>
<rect x="357.15" y="435.45" width="1.50" height="1.50" fill="#2a0a16"/>
<line x1="357.90" y1="434.20" x2="357.90" y2="438.20" stroke="#2a0a16" stroke-width="0.8"/>
<rect x="374.25" y="430.55" width="1.50" height="1.50" fill="#2a0a16"/>
<line x1="375.00" y1="428.80" x2="375.00" y2="433.80" stroke="#2a0a16" stroke-width="0.8"/>
<rect x="392.25" y="434.55" width="1.50" height="1.50" fill="#2a0a16"/>
<line x1="393.00" y1="432.80" x2="393.00" y2="437.80" stroke="#2a0a16" stroke-width="0.8"/>
<circle cx="356.15" cy="429.20" r="1.2" fill="#222"/>
<circle cx="359.65" cy="429.20" r="1.2" fill="#222"/>
<circle cx="375.00" cy="423.50" r="1.2" fill="#222"/>
<text x="434.20" y="410.00" font-size="8.6" font-weight="bold" textLength="78.1" lengthAdjust="spacingAndGlyphs" fill="#111" stroke="#111" stroke-width="0.28">Donor Granulocyte</text>
<text transform="translate(417.40,443.00) rotate(-90)" x="0" y="0" font-size="9.1" text-anchor="middle" textLength="54.0" lengthAdjust="spacingAndGlyphs" fill="#222" stroke="#222" stroke-width="0.2">% Gr chimerism</text>
<line x1="438.60" y1="415.70" x2="438.60" y2="469.60" stroke="#222" stroke-width="1.2"/>
<line x1="438.00" y1="469.00" x2="507.00" y2="469.00" stroke="#222" stroke-width="1.2"/>
<line x1="435.60" y1="418.50" x2="438.60" y2="418.50" stroke="#222" stroke-width="1.0"/>
<text x="432.80" y="420.70" font-size="6.1" text-anchor="end" textLength="10.2" lengthAdjust="spacingAndGlyphs" fill="#222" stroke="#222" stroke-width="0.22">100</text>
<line x1="435.60" y1="428.40" x2="438.60" y2="428.40" stroke="#222" stroke-width="1.0"/>
<text x="432.80" y="430.60" font-size="6.1" text-anchor="end" textLength="6.8" lengthAdjust="spacingAndGlyphs" fill="#222" stroke="#222" stroke-width="0.22">80</text>
<line x1="435.60" y1="438.50" x2="438.60" y2="438.50" stroke="#222" stroke-width="1.0"/>
<text x="432.80" y="440.70" font-size="6.1" text-anchor="end" textLength="6.8" lengthAdjust="spacingAndGlyphs" fill="#222" stroke="#222" stroke-width="0.22">60</text>
<line x1="435.60" y1="448.60" x2="438.60" y2="448.60" stroke="#222" stroke-width="1.0"/>
<text x="432.80" y="450.80" font-size="6.1" text-anchor="end" textLength="6.8" lengthAdjust="spacingAndGlyphs" fill="#222" stroke="#222" stroke-width="0.22">40</text>
<line x1="435.60" y1="458.80" x2="438.60" y2="458.80" stroke="#222" stroke-width="1.0"/>
<text x="432.80" y="461.00" font-size="6.1" text-anchor="end" textLength="6.8" lengthAdjust="spacingAndGlyphs" fill="#222" stroke="#222" stroke-width="0.22">20</text>
<line x1="435.60" y1="469.00" x2="438.60" y2="469.00" stroke="#222" stroke-width="1.0"/>
<text x="432.80" y="471.20" font-size="6.1" text-anchor="end" textLength="3.4" lengthAdjust="spacingAndGlyphs" fill="#222" stroke="#222" stroke-width="0.22">0</text>
<line x1="447.40" y1="469.00" x2="447.40" y2="472.00" stroke="#222" stroke-width="1.0"/>
<text x="447.40" y="480.90" font-size="6.2" text-anchor="middle" fill="#222" stroke="#222" stroke-width="0.15">4</text>
<line x1="464.60" y1="469.00" x2="464.60" y2="472.00" stroke="#222" stroke-width="1.0"/>
<text x="464.60" y="480.90" font-size="6.2" text-anchor="middle" fill="#222" stroke="#222" stroke-width="0.15">8</text>
<line x1="481.70" y1="469.00" x2="481.70" y2="472.00" stroke="#222" stroke-width="1.0"/>
<text x="481.70" y="480.90" font-size="6.2" text-anchor="middle" fill="#222" stroke="#222" stroke-width="0.15">12</text>
<line x1="499.00" y1="469.00" x2="499.00" y2="472.00" stroke="#222" stroke-width="1.0"/>
<text x="499.00" y="480.90" font-size="6.2" text-anchor="middle" fill="#222" stroke="#222" stroke-width="0.15">16</text>
<text x="473.00" y="492.80" font-size="9.7" text-anchor="middle" textLength="22.8" lengthAdjust="spacingAndGlyphs" fill="#1a1a1a" stroke="#1a1a1a" stroke-width="0.32">Weeks</text>
<path d="M447.40,447.70 L464.60,445.60 L481.70,445.60 L499.00,445.10" fill="none" stroke="#eee0e4" stroke-width="2.2" opacity="0.5"/>
<path d="M447.40,447.70 L464.60,445.60 L481.70,445.60 L499.00,445.10" fill="none" stroke="#c2c2c2" stroke-width="0.9"/>
<rect x="446.80" y="447.10" width="1.20" height="1.20" fill="#555"/>
<line x1="447.40" y1="444.70" x2="447.40" y2="450.70" stroke="#444" stroke-width="0.8"/>
<rect x="464.00" y="445.00" width="1.20" height="1.20" fill="#555"/>
<line x1="464.60" y1="442.60" x2="464.60" y2="448.60" stroke="#444" stroke-width="0.8"/>
<rect x="481.10" y="445.00" width="1.20" height="1.20" fill="#555"/>
<line x1="481.70" y1="442.60" x2="481.70" y2="448.60" stroke="#444" stroke-width="0.8"/>
<rect x="498.40" y="444.50" width="1.20" height="1.20" fill="#555"/>
<line x1="499.00" y1="442.10" x2="499.00" y2="448.10" stroke="#444" stroke-width="0.8"/>
<path d="M447.40,458.40 L464.60,460.70 L481.70,461.20 L499.00,460.70" fill="none" stroke="#eba9bc" stroke-width="3.05" opacity="0.45"/>
<path d="M447.40,458.40 L464.60,460.70 L481.70,461.20 L499.00,460.70" fill="none" stroke="#7a2242" stroke-width="1.25"/>
<rect x="446.65" y="457.65" width="1.50" height="1.50" fill="#2a0a16"/>
<line x1="447.40" y1="456.40" x2="447.40" y2="460.40" stroke="#2a0a16" stroke-width="0.8"/>
<rect x="463.85" y="459.95" width="1.50" height="1.50" fill="#2a0a16"/>
<line x1="464.60" y1="459.20" x2="464.60" y2="462.20" stroke="#2a0a16" stroke-width="0.8"/>
<rect x="480.95" y="460.45" width="1.50" height="1.50" fill="#2a0a16"/>
<line x1="481.70" y1="459.70" x2="481.70" y2="462.70" stroke="#2a0a16" stroke-width="0.8"/>
<rect x="498.25" y="459.95" width="1.50" height="1.50" fill="#2a0a16"/>
<line x1="499.00" y1="459.20" x2="499.00" y2="462.20" stroke="#2a0a16" stroke-width="0.8"/>
<circle cx="445.65" cy="441.10" r="1.2" fill="#222"/>
<circle cx="449.15" cy="441.10" r="1.2" fill="#222"/>
<circle cx="461.10" cy="437.70" r="1.2" fill="#222"/>
<circle cx="464.60" cy="437.70" r="1.2" fill="#222"/>
<circle cx="468.10" cy="437.70" r="1.2" fill="#222"/>
<circle cx="478.20" cy="437.70" r="1.2" fill="#222"/>
<circle cx="481.70" cy="437.70" r="1.2" fill="#222"/>
<circle cx="485.20" cy="437.70" r="1.2" fill="#222"/>
<circle cx="495.50" cy="437.00" r="1.2" fill="#222"/>
<circle cx="499.00" cy="437.00" r="1.2" fill="#222"/>
<circle cx="502.50" cy="437.00" r="1.2" fill="#222"/>
<text transform="translate(8.51,520.30) scale(0.89,1)" x="0" y="0" font-size="11.8" font-weight="bold" fill="#111" stroke="#111" stroke-width="0.25">L</text>
<text transform="translate(80.41,520.30) scale(0.89,1)" x="0" y="0" font-size="11.8" font-weight="bold" fill="#111" stroke="#111" stroke-width="0.25">M</text>
<text transform="translate(212.61,520.30) scale(0.89,1)" x="0" y="0" font-size="11.8" font-weight="bold" fill="#111" stroke="#111" stroke-width="0.25">N</text>
<text transform="translate(332.47,520.30) scale(0.89,1)" x="0" y="0" font-size="11.8" font-weight="bold" fill="#111" stroke="#111" stroke-width="0.25">O</text>
<text transform="translate(445.51,520.30) scale(0.89,1)" x="0" y="0" font-size="11.8" font-weight="bold" fill="#111" stroke="#111" stroke-width="0.25">P</text>
<text x="47.60" y="533.90" font-size="8.6" font-weight="bold" text-anchor="middle" fill="#111" stroke="#111" stroke-width="0.28">Donor</text>
<text x="47.60" y="544.60" font-size="8.6" font-weight="bold" text-anchor="middle" fill="#111" stroke="#111" stroke-width="0.28">chimerism</text>
<text transform="translate(14.50,587.50) rotate(-90)" x="0" y="0" font-size="8.4" text-anchor="middle" textLength="74.0" lengthAdjust="spacingAndGlyphs" fill="#222" stroke="#222" stroke-width="0.2">Frequency of BM (%)</text>
<line x1="33.30" y1="557.50" x2="36.30" y2="557.50" stroke="#222" stroke-width="1.0"/>
<text x="31.60" y="559.70" font-size="6.3" text-anchor="end" fill="#222" stroke="#222" stroke-width="0.22">100</text>
<line x1="33.30" y1="570.10" x2="36.30" y2="570.10" stroke="#222" stroke-width="1.0"/>
<text x="31.60" y="572.30" font-size="6.3" text-anchor="end" fill="#222" stroke="#222" stroke-width="0.22">80</text>
<line x1="33.30" y1="582.90" x2="36.30" y2="582.90" stroke="#222" stroke-width="1.0"/>
<text x="31.60" y="585.10" font-size="6.3" text-anchor="end" fill="#222" stroke="#222" stroke-width="0.22">60</text>
<line x1="33.30" y1="595.30" x2="36.30" y2="595.30" stroke="#222" stroke-width="1.0"/>
<text x="31.60" y="597.50" font-size="6.3" text-anchor="end" fill="#222" stroke="#222" stroke-width="0.22">40</text>
<line x1="33.30" y1="607.80" x2="36.30" y2="607.80" stroke="#222" stroke-width="1.0"/>
<text x="31.60" y="610.00" font-size="6.3" text-anchor="end" fill="#222" stroke="#222" stroke-width="0.22">20</text>
<line x1="33.30" y1="620.30" x2="36.30" y2="620.30" stroke="#222" stroke-width="1.0"/>
<text x="31.60" y="622.50" font-size="6.3" text-anchor="end" fill="#222" stroke="#222" stroke-width="0.22">0</text>
<line x1="42.40" y1="578.20" x2="42.40" y2="582.90" stroke="#2a0d38" stroke-width="1.5"/>
<line x1="40.20" y1="578.20" x2="44.60" y2="578.20" stroke="#2a0d38" stroke-width="1.3"/>
<rect x="39.10" y="582.90" width="6.60" height="37.40" fill="#4f2368" stroke="#3a1552" stroke-width="0.6"/>
<line x1="42.40" y1="620.30" x2="42.40" y2="622.80" stroke="#222" stroke-width="1.0"/>
<line x1="53.45" y1="604.20" x2="53.45" y2="608.40" stroke="#4a0a1c" stroke-width="1.5"/>
<line x1="51.25" y1="604.20" x2="55.65" y2="604.20" stroke="#4a0a1c" stroke-width="1.3"/>
<rect x="50.10" y="608.40" width="6.70" height="11.90" fill="#ab002a" stroke="#7e0a24" stroke-width="0.6"/>
<line x1="53.45" y1="620.30" x2="53.45" y2="622.80" stroke="#222" stroke-width="1.0"/>
<line x1="36.30" y1="554.50" x2="36.30" y2="620.90" stroke="#222" stroke-width="1.2"/>
<line x1="35.70" y1="620.30" x2="59.20" y2="620.30" stroke="#222" stroke-width="1.2"/>
<path d="M41.00,572.90 L41.00,570.10 L54.50,570.10 L54.50,572.90" fill="none" stroke="#222" stroke-width="1.1"/>
<circle cx="46.00" cy="565.40" r="1.2" fill="#222"/>
<circle cx="49.50" cy="565.40" r="1.2" fill="#222"/>
<text x="42.40" y="632.50" font-size="7.0" text-anchor="middle" textLength="10.3" lengthAdjust="spacingAndGlyphs" fill="#222" stroke="#222" stroke-width="0.22">WT</text>
<text x="53.45" y="632.50" font-size="7.0" text-anchor="middle" textLength="9.5" lengthAdjust="spacingAndGlyphs" fill="#222" stroke="#222" stroke-width="0.22">KO</text>
<text x="153.50" y="533.90" font-size="8.6" font-weight="bold" text-anchor="middle" fill="#111" stroke="#111" stroke-width="0.28">Stem cells and</text>
<text x="152.80" y="544.80" font-size="8.6" font-weight="bold" text-anchor="middle" textLength="96.5" lengthAdjust="spacingAndGlyphs" fill="#111" stroke="#111" stroke-width="0.28">Multipotent progenitors</text>
<text transform="translate(88.50,587.50) rotate(-90)" x="0" y="0" font-size="8.4" text-anchor="middle" textLength="74.0" lengthAdjust="spacingAndGlyphs" fill="#222" stroke="#222" stroke-width="0.2">Frequency of BM (%)</text>
<line x1="108.70" y1="558.80" x2="111.70" y2="558.80" stroke="#222" stroke-width="1.0"/>
<text x="105.80" y="561.00" font-size="6.3" text-anchor="end" fill="#222" stroke="#222" stroke-width="0.22">0.03</text>
<line x1="108.70" y1="579.50" x2="111.70" y2="579.50" stroke="#222" stroke-width="1.0"/>
<text x="105.80" y="581.70" font-size="6.3" text-anchor="end" fill="#222" stroke="#222" stroke-width="0.22">0.02</text>
<line x1="108.70" y1="600.00" x2="111.70" y2="600.00" stroke="#222" stroke-width="1.0"/>
<text x="105.80" y="602.20" font-size="6.3" text-anchor="end" fill="#222" stroke="#222" stroke-width="0.22">0.01</text>
<line x1="108.70" y1="620.30" x2="111.70" y2="620.30" stroke="#222" stroke-width="1.0"/>
<text x="105.80" y="622.50" font-size="6.3" text-anchor="end" fill="#222" stroke="#222" stroke-width="0.22">0.00</text>
<line x1="117.90" y1="607.70" x2="117.90" y2="610.00" stroke="#2a0d38" stroke-width="1.5"/>
<line x1="115.70" y1="607.70" x2="120.10" y2="607.70" stroke="#2a0d38" stroke-width="1.3"/>
<rect x="114.20" y="610.00" width="7.40" height="10.30" fill="#4f2368" stroke="#3a1552" stroke-width="0.6"/>
<line x1="117.90" y1="620.30" x2="117.90" y2="622.80" stroke="#222" stroke-width="1.0"/>
<line x1="130.35" y1="616.30" x2="130.35" y2="617.20" stroke="#4a0a1c" stroke-width="1.5"/>
<line x1="128.15" y1="616.30" x2="132.55" y2="616.30" stroke="#4a0a1c" stroke-width="1.3"/>
<rect x="126.50" y="617.20" width="7.70" height="3.10" fill="#ab002a" stroke="#7e0a24" stroke-width="0.6"/>
<line x1="130.35" y1="620.30" x2="130.35" y2="622.80" stroke="#222" stroke-width="1.0"/>
<line x1="147.15" y1="594.20" x2="147.15" y2="598.20" stroke="#2a0d38" stroke-width="1.5"/>
<line x1="144.95" y1="594.20" x2="149.35" y2="594.20" stroke="#2a0d38" stroke-width="1.3"/>
<rect x="143.80" y="598.20" width="6.70" height="22.10" fill="#4f2368" stroke="#3a1552" stroke-width="0.6"/>
<line x1="147.15" y1="620.30" x2="147.15" y2="622.80" stroke="#222" stroke-width="1.0"/>
<line x1="159.25" y1="614.20" x2="159.25" y2="615.70" stroke="#4a0a1c" stroke-width="1.5"/>
<line x1="157.05" y1="614.20" x2="161.45" y2="614.20" stroke="#4a0a1c" stroke-width="1.3"/>
<rect x="155.30" y="615.70" width="7.90" height="4.60" fill="#ab002a" stroke="#7e0a24" stroke-width="0.6"/>
<line x1="159.25" y1="620.30" x2="159.25" y2="622.80" stroke="#222" stroke-width="1.0"/>
<line x1="175.90" y1="561.30" x2="175.90" y2="572.60" stroke="#2a0d38" stroke-width="1.5"/>
<line x1="173.70" y1="561.30" x2="178.10" y2="561.30" stroke="#2a0d38" stroke-width="1.3"/>
<rect x="172.00" y="572.60" width="7.80" height="47.70" fill="#4f2368" stroke="#3a1552" stroke-width="0.6"/>
<line x1="175.90" y1="620.30" x2="175.90" y2="622.80" stroke="#222" stroke-width="1.0"/>
<line x1="188.20" y1="599.30" x2="188.20" y2="604.50" stroke="#4a0a1c" stroke-width="1.5"/>
<line x1="186.00" y1="599.30" x2="190.40" y2="599.30" stroke="#4a0a1c" stroke-width="1.3"/>
<rect x="184.40" y="604.50" width="7.60" height="15.80" fill="#ab002a" stroke="#7e0a24" stroke-width="0.6"/>
<line x1="188.20" y1="620.30" x2="188.20" y2="622.80" stroke="#222" stroke-width="1.0"/>
<line x1="111.70" y1="556.10" x2="111.70" y2="620.90" stroke="#222" stroke-width="1.2"/>
<line x1="111.10" y1="620.30" x2="194.00" y2="620.30" stroke="#222" stroke-width="1.2"/>
<path d="M117.00,602.40 L117.00,599.60 L129.90,599.60 L129.90,602.40" fill="none" stroke="#222" stroke-width="1.1"/>
<circle cx="121.70" cy="594.60" r="1.2" fill="#222"/>
<circle cx="125.20" cy="594.60" r="1.2" fill="#222"/>
<path d="M146.50,589.40 L146.50,586.60 L159.60,586.60 L159.60,589.40" fill="none" stroke="#222" stroke-width="1.1"/>
<circle cx="151.30" cy="581.50" r="1.2" fill="#222"/>
<circle cx="154.80" cy="581.50" r="1.2" fill="#222"/>
<path d="M175.40,559.80 L175.40,557.00 L188.50,557.00 L188.50,559.80" fill="none" stroke="#222" stroke-width="1.1"/>
<circle cx="181.95" cy="552.20" r="1.2" fill="#222"/>
<text x="117.90" y="632.70" font-size="7.0" text-anchor="middle" textLength="10.3" lengthAdjust="spacingAndGlyphs" fill="#222" stroke="#222" stroke-width="0.22">WT</text>
<text x="130.35" y="632.70" font-size="7.0" text-anchor="middle" textLength="9.5" lengthAdjust="spacingAndGlyphs" fill="#222" stroke="#222" stroke-width="0.22">KO</text>
<text x="147.15" y="632.70" font-size="7.0" text-anchor="middle" textLength="10.3" lengthAdjust="spacingAndGlyphs" fill="#222" stroke="#222" stroke-width="0.22">WT</text>
<text x="159.25" y="632.70" font-size="7.0" text-anchor="middle" textLength="9.5" lengthAdjust="spacingAndGlyphs" fill="#222" stroke="#222" stroke-width="0.22">KO</text>
<text x="175.90" y="632.70" font-size="7.0" text-anchor="middle" textLength="10.3" lengthAdjust="spacingAndGlyphs" fill="#222" stroke="#222" stroke-width="0.22">WT</text>
<text x="188.20" y="632.70" font-size="7.0" text-anchor="middle" textLength="9.5" lengthAdjust="spacingAndGlyphs" fill="#222" stroke="#222" stroke-width="0.22">KO</text>
<line x1="112.40" y1="636.20" x2="135.00" y2="636.20" stroke="#222" stroke-width="1.35"/>
<text x="123.70" y="644.60" font-size="6.5" text-anchor="middle" fill="#333" stroke="#333" stroke-width="0.22">HSC</text>
<line x1="141.20" y1="636.20" x2="163.50" y2="636.20" stroke="#222" stroke-width="1.35"/>
<text x="152.35" y="644.60" font-size="6.5" text-anchor="middle" fill="#333" stroke="#333" stroke-width="0.22">MPP1</text>
<line x1="171.00" y1="636.20" x2="193.20" y2="636.20" stroke="#222" stroke-width="1.35"/>
<text x="182.10" y="644.60" font-size="6.5" text-anchor="middle" fill="#333" stroke="#333" stroke-width="0.22">MPP2</text>
<text x="282.30" y="533.90" font-size="8.6" font-weight="bold" text-anchor="middle" fill="#111" stroke="#111" stroke-width="0.28">Myeloid</text>
<text x="282.30" y="544.80" font-size="8.6" font-weight="bold" text-anchor="middle" fill="#111" stroke="#111" stroke-width="0.28">progenitors</text>
<text transform="translate(219.20,588.00) rotate(-90)" x="0" y="0" font-size="8.4" text-anchor="middle" textLength="74.0" lengthAdjust="spacingAndGlyphs" fill="#222" stroke="#222" stroke-width="0.2">Frequency of BM (%)</text>
<line x1="240.60" y1="558.80" x2="243.60" y2="558.80" stroke="#222" stroke-width="1.0"/>
<text x="237.60" y="561.00" font-size="6.3" text-anchor="end" fill="#222" stroke="#222" stroke-width="0.22">0.08</text>
<line x1="240.60" y1="574.20" x2="243.60" y2="574.20" stroke="#222" stroke-width="1.0"/>
<text x="237.60" y="576.40" font-size="6.3" text-anchor="end" fill="#222" stroke="#222" stroke-width="0.22">0.06</text>
<line x1="240.60" y1="589.60" x2="243.60" y2="589.60" stroke="#222" stroke-width="1.0"/>
<text x="237.60" y="591.80" font-size="6.3" text-anchor="end" fill="#222" stroke="#222" stroke-width="0.22">0.04</text>
<line x1="240.60" y1="605.00" x2="243.60" y2="605.00" stroke="#222" stroke-width="1.0"/>
<text x="237.60" y="607.20" font-size="6.3" text-anchor="end" fill="#222" stroke="#222" stroke-width="0.22">0.02</text>
<line x1="240.60" y1="620.40" x2="243.60" y2="620.40" stroke="#222" stroke-width="1.0"/>
<text x="237.60" y="622.60" font-size="6.3" text-anchor="end" fill="#222" stroke="#222" stroke-width="0.22">0.00</text>
<line x1="250.20" y1="601.20" x2="250.20" y2="604.40" stroke="#2a0d38" stroke-width="1.5"/>
<line x1="248.00" y1="601.20" x2="252.40" y2="601.20" stroke="#2a0d38" stroke-width="1.3"/>
<rect x="246.50" y="604.40" width="7.40" height="16.00" fill="#4f2368" stroke="#3a1552" stroke-width="0.6"/>
<line x1="250.20" y1="620.40" x2="250.20" y2="622.90" stroke="#222" stroke-width="1.0"/>
<line x1="262.60" y1="616.90" x2="262.60" y2="618.50" stroke="#4a0a1c" stroke-width="1.5"/>
<line x1="260.40" y1="616.90" x2="264.80" y2="616.90" stroke="#4a0a1c" stroke-width="1.3"/>
<rect x="258.80" y="618.50" width="7.60" height="1.90" fill="#ab002a" stroke="#7e0a24" stroke-width="0.6"/>
<line x1="262.60" y1="620.40" x2="262.60" y2="622.90" stroke="#222" stroke-width="1.0"/>
<line x1="276.05" y1="561.20" x2="276.05" y2="569.40" stroke="#2a0d38" stroke-width="1.5"/>
<line x1="273.85" y1="561.20" x2="278.25" y2="561.20" stroke="#2a0d38" stroke-width="1.3"/>
<rect x="272.20" y="569.40" width="7.70" height="51.00" fill="#4f2368" stroke="#3a1552" stroke-width="0.6"/>
<line x1="276.05" y1="620.40" x2="276.05" y2="622.90" stroke="#222" stroke-width="1.0"/>
<line x1="288.35" y1="606.90" x2="288.35" y2="611.50" stroke="#4a0a1c" stroke-width="1.5"/>
<line x1="286.15" y1="606.90" x2="290.55" y2="606.90" stroke="#4a0a1c" stroke-width="1.3"/>
<rect x="284.30" y="611.50" width="8.10" height="8.90" fill="#ab002a" stroke="#7e0a24" stroke-width="0.6"/>
<line x1="288.35" y1="620.40" x2="288.35" y2="622.90" stroke="#222" stroke-width="1.0"/>
<line x1="301.25" y1="592.30" x2="301.25" y2="596.90" stroke="#2a0d38" stroke-width="1.5"/>
<line x1="299.05" y1="592.30" x2="303.45" y2="592.30" stroke="#2a0d38" stroke-width="1.3"/>
<rect x="297.20" y="596.90" width="8.10" height="23.50" fill="#4f2368" stroke="#3a1552" stroke-width="0.6"/>
<line x1="301.25" y1="620.40" x2="301.25" y2="622.90" stroke="#222" stroke-width="1.0"/>
<line x1="313.85" y1="617.30" x2="313.85" y2="619.20" stroke="#4a0a1c" stroke-width="1.5"/>
<line x1="311.65" y1="617.30" x2="316.05" y2="617.30" stroke="#4a0a1c" stroke-width="1.3"/>
<rect x="309.90" y="619.20" width="7.90" height="1.20" fill="#ab002a" stroke="#7e0a24" stroke-width="0.6"/>
<line x1="313.85" y1="620.40" x2="313.85" y2="622.90" stroke="#222" stroke-width="1.0"/>
<line x1="243.60" y1="556.50" x2="243.60" y2="621.00" stroke="#222" stroke-width="1.2"/>
<line x1="243.00" y1="620.40" x2="320.60" y2="620.40" stroke="#222" stroke-width="1.2"/>
<path d="M250.40,596.70 L250.40,593.90 L263.80,593.90 L263.80,596.70" fill="none" stroke="#222" stroke-width="1.1"/>
<circle cx="255.35" cy="589.00" r="1.2" fill="#222"/>
<circle cx="258.85" cy="589.00" r="1.2" fill="#222"/>
<path d="M275.00,559.50 L275.00,556.70 L287.90,556.70 L287.90,559.50" fill="none" stroke="#222" stroke-width="1.1"/>
<circle cx="279.70" cy="551.20" r="1.2" fill="#222"/>
<circle cx="283.20" cy="551.20" r="1.2" fill="#222"/>
<path d="M300.80,587.80 L300.80,585.00 L313.80,585.00 L313.80,587.80" fill="none" stroke="#222" stroke-width="1.1"/>
<circle cx="305.55" cy="580.40" r="1.2" fill="#222"/>
<circle cx="309.05" cy="580.40" r="1.2" fill="#222"/>
<text x="250.20" y="633.90" font-size="7.0" text-anchor="middle" textLength="10.3" lengthAdjust="spacingAndGlyphs" fill="#222" stroke="#222" stroke-width="0.22">WT</text>
<text x="262.60" y="633.90" font-size="7.0" text-anchor="middle" textLength="9.5" lengthAdjust="spacingAndGlyphs" fill="#222" stroke="#222" stroke-width="0.22">KO</text>
<text x="276.05" y="633.90" font-size="7.0" text-anchor="middle" textLength="10.3" lengthAdjust="spacingAndGlyphs" fill="#222" stroke="#222" stroke-width="0.22">WT</text>
<text x="288.35" y="633.90" font-size="7.0" text-anchor="middle" textLength="9.5" lengthAdjust="spacingAndGlyphs" fill="#222" stroke="#222" stroke-width="0.22">KO</text>
<text x="301.25" y="633.90" font-size="7.0" text-anchor="middle" textLength="10.3" lengthAdjust="spacingAndGlyphs" fill="#222" stroke="#222" stroke-width="0.22">WT</text>
<text x="313.85" y="633.90" font-size="7.0" text-anchor="middle" textLength="9.5" lengthAdjust="spacingAndGlyphs" fill="#222" stroke="#222" stroke-width="0.22">KO</text>
<line x1="243.70" y1="637.60" x2="267.70" y2="637.60" stroke="#222" stroke-width="1.35"/>
<text x="255.70" y="644.10" font-size="6.5" text-anchor="middle" fill="#333" stroke="#333" stroke-width="0.22">CMP</text>
<line x1="270.60" y1="637.60" x2="293.70" y2="637.60" stroke="#222" stroke-width="1.35"/>
<text x="282.15" y="644.10" font-size="6.5" text-anchor="middle" fill="#333" stroke="#333" stroke-width="0.22">GMP</text>
<line x1="297.50" y1="637.60" x2="320.60" y2="637.60" stroke="#222" stroke-width="1.35"/>
<text x="309.05" y="644.10" font-size="6.5" text-anchor="middle" fill="#333" stroke="#333" stroke-width="0.22">MEP</text>
<text x="389.00" y="534.10" font-size="8.6" font-weight="bold" text-anchor="middle" fill="#111" stroke="#111" stroke-width="0.28">Megakaryocyte and</text>
<text x="389.20" y="545.10" font-size="8.6" font-weight="bold" text-anchor="middle" textLength="87.9" lengthAdjust="spacingAndGlyphs" fill="#111" stroke="#111" stroke-width="0.28">Erythroid progenitors</text>
<text transform="translate(339.30,587.50) rotate(-90)" x="0" y="0" font-size="8.4" text-anchor="middle" textLength="74.0" lengthAdjust="spacingAndGlyphs" fill="#222" stroke="#222" stroke-width="0.2">Frequency of BM (%)</text>
<line x1="359.00" y1="559.00" x2="362.00" y2="559.00" stroke="#222" stroke-width="1.0"/>
<text x="357.30" y="561.20" font-size="6.3" text-anchor="end" fill="#222" stroke="#222" stroke-width="0.22">0.20</text>
<line x1="359.00" y1="574.70" x2="362.00" y2="574.70" stroke="#222" stroke-width="1.0"/>
<text x="357.30" y="576.90" font-size="6.3" text-anchor="end" fill="#222" stroke="#222" stroke-width="0.22">0.15</text>
<line x1="359.00" y1="589.80" x2="362.00" y2="589.80" stroke="#222" stroke-width="1.0"/>
<text x="357.30" y="592.00" font-size="6.3" text-anchor="end" fill="#222" stroke="#222" stroke-width="0.22">0.10</text>
<line x1="359.00" y1="605.00" x2="362.00" y2="605.00" stroke="#222" stroke-width="1.0"/>
<text x="357.30" y="607.20" font-size="6.3" text-anchor="end" fill="#222" stroke="#222" stroke-width="0.22">0.05</text>
<line x1="359.00" y1="620.20" x2="362.00" y2="620.20" stroke="#222" stroke-width="1.0"/>
<text x="357.30" y="622.40" font-size="6.3" text-anchor="end" fill="#222" stroke="#222" stroke-width="0.22">0.00</text>
<line x1="369.35" y1="611.00" x2="369.35" y2="612.80" stroke="#2a0d38" stroke-width="1.5"/>
<line x1="367.15" y1="611.00" x2="371.55" y2="611.00" stroke="#2a0d38" stroke-width="1.3"/>
<rect x="365.30" y="612.80" width="8.10" height="7.40" fill="#4f2368" stroke="#3a1552" stroke-width="0.6"/>
<line x1="369.35" y1="620.20" x2="369.35" y2="622.70" stroke="#222" stroke-width="1.0"/>
<line x1="382.45" y1="618.80" x2="382.45" y2="619.40" stroke="#4a0a1c" stroke-width="1.5"/>
<line x1="380.25" y1="618.80" x2="384.65" y2="618.80" stroke="#4a0a1c" stroke-width="1.3"/>
<rect x="378.70" y="619.40" width="7.50" height="0.80" fill="#ab002a" stroke="#7e0a24" stroke-width="0.6"/>
<line x1="382.45" y1="620.20" x2="382.45" y2="622.70" stroke="#222" stroke-width="1.0"/>
<line x1="395.80" y1="565.20" x2="395.80" y2="576.20" stroke="#2a0d38" stroke-width="1.5"/>
<line x1="393.60" y1="565.20" x2="398.00" y2="565.20" stroke="#2a0d38" stroke-width="1.3"/>
<rect x="391.80" y="576.20" width="8.00" height="44.00" fill="#4f2368" stroke="#3a1552" stroke-width="0.6"/>
<line x1="395.80" y1="620.20" x2="395.80" y2="622.70" stroke="#222" stroke-width="1.0"/>
<line x1="408.65" y1="615.00" x2="408.65" y2="616.80" stroke="#4a0a1c" stroke-width="1.5"/>
<line x1="406.45" y1="615.00" x2="410.85" y2="615.00" stroke="#4a0a1c" stroke-width="1.3"/>
<rect x="404.60" y="616.80" width="8.10" height="3.40" fill="#ab002a" stroke="#7e0a24" stroke-width="0.6"/>
<line x1="408.65" y1="620.20" x2="408.65" y2="622.70" stroke="#222" stroke-width="1.0"/>
<line x1="362.00" y1="556.00" x2="362.00" y2="620.80" stroke="#222" stroke-width="1.2"/>
<line x1="361.40" y1="620.20" x2="414.70" y2="620.20" stroke="#222" stroke-width="1.2"/>
<path d="M368.80,606.10 L368.80,603.30 L382.30,603.30 L382.30,606.10" fill="none" stroke="#222" stroke-width="1.1"/>
<circle cx="373.80" cy="598.40" r="1.2" fill="#222"/>
<circle cx="377.30" cy="598.40" r="1.2" fill="#222"/>
<path d="M395.40,563.90 L395.40,561.10 L408.70,561.10 L408.70,563.90" fill="none" stroke="#222" stroke-width="1.1"/>
<circle cx="400.30" cy="555.50" r="1.2" fill="#222"/>
<circle cx="403.80" cy="555.50" r="1.2" fill="#222"/>
<text x="369.35" y="632.70" font-size="7.0" text-anchor="middle" textLength="10.3" lengthAdjust="spacingAndGlyphs" fill="#222" stroke="#222" stroke-width="0.22">WT</text>
<text x="382.45" y="632.70" font-size="7.0" text-anchor="middle" textLength="9.5" lengthAdjust="spacingAndGlyphs" fill="#222" stroke="#222" stroke-width="0.22">KO</text>
<text x="395.80" y="632.70" font-size="7.0" text-anchor="middle" textLength="10.3" lengthAdjust="spacingAndGlyphs" fill="#222" stroke="#222" stroke-width="0.22">WT</text>
<text x="408.65" y="632.70" font-size="7.0" text-anchor="middle" textLength="9.5" lengthAdjust="spacingAndGlyphs" fill="#222" stroke="#222" stroke-width="0.22">KO</text>
<line x1="364.50" y1="636.20" x2="387.90" y2="636.20" stroke="#222" stroke-width="1.35"/>
<text x="376.20" y="644.30" font-size="6.5" text-anchor="middle" fill="#333" stroke="#333" stroke-width="0.22">MkP</text>
<line x1="391.30" y1="636.20" x2="414.70" y2="636.20" stroke="#222" stroke-width="1.35"/>
<text x="403.00" y="644.30" font-size="6.5" text-anchor="middle" fill="#333" stroke="#333" stroke-width="0.22">EP</text>
<text x="489.20" y="534.10" font-size="8.6" font-weight="bold" text-anchor="middle" textLength="41.6" lengthAdjust="spacingAndGlyphs" fill="#111" stroke="#111" stroke-width="0.28">Lymphoid</text>
<text x="489.10" y="544.50" font-size="8.6" font-weight="bold" text-anchor="middle" textLength="47.2" lengthAdjust="spacingAndGlyphs" fill="#111" stroke="#111" stroke-width="0.28">progenitors</text>
<text transform="translate(452.30,587.50) rotate(-90)" x="0" y="0" font-size="8.4" text-anchor="middle" textLength="74.0" lengthAdjust="spacingAndGlyphs" fill="#222" stroke="#222" stroke-width="0.2">Frequency of BM (%)</text>
<line x1="472.70" y1="559.00" x2="475.70" y2="559.00" stroke="#222" stroke-width="1.0"/>
<text x="470.70" y="561.20" font-size="6.3" text-anchor="end" fill="#222" stroke="#222" stroke-width="0.22">0.06</text>
<line x1="472.70" y1="579.30" x2="475.70" y2="579.30" stroke="#222" stroke-width="1.0"/>
<text x="470.70" y="581.50" font-size="6.3" text-anchor="end" fill="#222" stroke="#222" stroke-width="0.22">0.04</text>
<line x1="472.70" y1="599.80" x2="475.70" y2="599.80" stroke="#222" stroke-width="1.0"/>
<text x="470.70" y="602.00" font-size="6.3" text-anchor="end" fill="#222" stroke="#222" stroke-width="0.22">0.02</text>
<line x1="472.70" y1="620.40" x2="475.70" y2="620.40" stroke="#222" stroke-width="1.0"/>
<text x="470.70" y="622.60" font-size="6.3" text-anchor="end" fill="#222" stroke="#222" stroke-width="0.22">0.00</text>
<line x1="482.50" y1="568.20" x2="482.50" y2="575.10" stroke="#2a0d38" stroke-width="1.5"/>
<line x1="480.30" y1="568.20" x2="484.70" y2="568.20" stroke="#2a0d38" stroke-width="1.3"/>
<rect x="478.40" y="575.10" width="8.20" height="45.30" fill="#4f2368" stroke="#3a1552" stroke-width="0.6"/>
<line x1="482.50" y1="620.40" x2="482.50" y2="622.90" stroke="#222" stroke-width="1.0"/>
<line x1="495.35" y1="599.80" x2="495.35" y2="606.20" stroke="#4a0a1c" stroke-width="1.5"/>
<line x1="493.15" y1="599.80" x2="497.55" y2="599.80" stroke="#4a0a1c" stroke-width="1.3"/>
<rect x="491.30" y="606.20" width="8.10" height="14.20" fill="#ab002a" stroke="#7e0a24" stroke-width="0.6"/>
<line x1="495.35" y1="620.40" x2="495.35" y2="622.90" stroke="#222" stroke-width="1.0"/>
<line x1="475.70" y1="556.00" x2="475.70" y2="621.00" stroke="#222" stroke-width="1.2"/>
<line x1="475.10" y1="620.40" x2="502.80" y2="620.40" stroke="#222" stroke-width="1.2"/>
<path d="M481.60,563.60 L481.60,560.80 L494.90,560.80 L494.90,563.60" fill="none" stroke="#222" stroke-width="1.1"/>
<circle cx="486.50" cy="555.50" r="1.2" fill="#222"/>
<circle cx="490.00" cy="555.50" r="1.2" fill="#222"/>
<text x="482.50" y="632.70" font-size="7.0" text-anchor="middle" textLength="10.3" lengthAdjust="spacingAndGlyphs" fill="#222" stroke="#222" stroke-width="0.22">WT</text>
<text x="495.35" y="632.70" font-size="7.0" text-anchor="middle" textLength="9.5" lengthAdjust="spacingAndGlyphs" fill="#222" stroke="#222" stroke-width="0.22">KO</text>
<line x1="478.10" y1="636.80" x2="501.00" y2="636.80" stroke="#222" stroke-width="1.35"/>
<text x="489.55" y="644.40" font-size="6.5" text-anchor="middle" fill="#333" stroke="#333" stroke-width="0.22">CLP</text>
<rect x="0.75" y="0.6" width="518.5" height="652.6" fill="none" stroke="#000" stroke-width="1.6"/>
</svg>
</body></html>
